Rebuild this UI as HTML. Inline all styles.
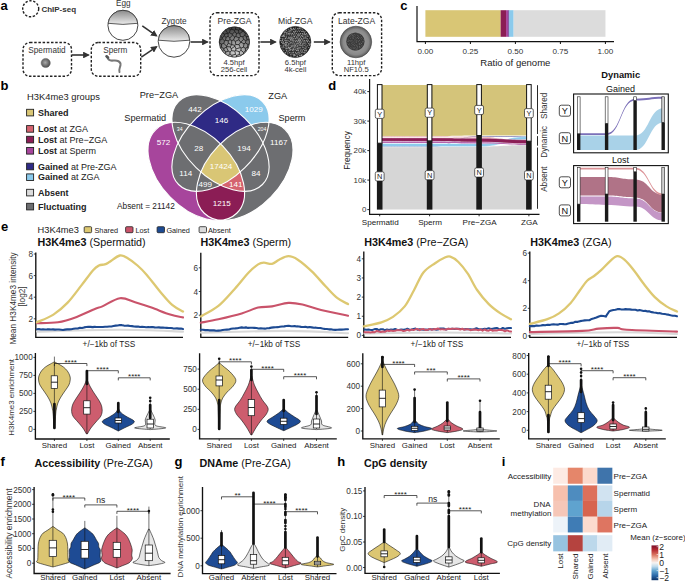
<!DOCTYPE html>
<html><head><meta charset="utf-8"><style>
html,body{margin:0;padding:0;background:#fff;}
svg{display:block;font-family:"Liberation Sans",sans-serif;}
</style></head><body>
<svg width="685" height="582" viewBox="0 0 685 582">
<defs>
<marker id="arr" viewBox="0 0 10 10" refX="8" refY="5" markerWidth="4.2" markerHeight="4.2" orient="auto"><path d="M0,0 L10,5 L0,10 Z" fill="#333"/></marker>
<radialGradient id="gSph" cx="0.45" cy="0.45" r="0.6"><stop offset="0" stop-color="#aaa"/><stop offset="1" stop-color="#444"/></radialGradient>
<linearGradient id="gEgg" x1="0" y1="0" x2="0" y2="1"><stop offset="0" stop-color="#8a8a8a"/><stop offset="1" stop-color="#ececec"/></linearGradient>
<radialGradient id="gPre" cx="0.55" cy="0.85" r="0.95"><stop offset="0" stop-color="#d4d4d4"/><stop offset="0.45" stop-color="#8a8a8a"/><stop offset="1" stop-color="#262626"/></radialGradient>
<radialGradient id="gMid" cx="0.5" cy="0.55" r="0.6"><stop offset="0" stop-color="#444"/><stop offset="1" stop-color="#1a1a1a"/></radialGradient>
<radialGradient id="gLate" cx="0.5" cy="0.5" r="0.5"><stop offset="0.55" stop-color="#959595"/><stop offset="0.8" stop-color="#8a8a8a"/><stop offset="1" stop-color="#5a5a5a"/></radialGradient>
<pattern id="patCells" width="5" height="4.5" patternUnits="userSpaceOnUse"><path d="M0,0.5 L2.5,0 L5,0.6 M2.5,0 L2.2,2.3 L0,2.6 M2.2,2.3 L4.8,2.5 M1.2,2.5 L1.5,4.5 M3.8,2.4 L3.6,4.5" stroke="#151515" stroke-width="0.5" fill="none"/></pattern>
<pattern id="patDots" width="2.4" height="2.4" patternUnits="userSpaceOnUse"><circle cx="1.2" cy="1.2" r="0.55" fill="#cfcfcf"/></pattern>
<pattern id="patDots2" width="2.2" height="2.2" patternUnits="userSpaceOnUse"><circle cx="1.1" cy="1.1" r="0.45" fill="#999"/></pattern>
<clipPath id="clipA"><ellipse cx="196.30" cy="171.40" rx="58.2" ry="36.6" transform="rotate(46 196.30 171.40)" fill="#fff" /></clipPath>
<clipPath id="clipB"><ellipse cx="220.50" cy="143.00" rx="59.0" ry="34.7" transform="rotate(44.7 220.50 143.00)" fill="#fff" /></clipPath>
<clipPath id="clipCc"><ellipse cx="220.50" cy="143.00" rx="59.0" ry="34.7" transform="rotate(-44.7 220.50 143.00)" fill="#fff" /></clipPath>
<clipPath id="clipD"><ellipse cx="244.70" cy="171.40" rx="58.2" ry="36.6" transform="rotate(-46 244.70 171.40)" fill="#fff" /></clipPath>
<mask id="mA" maskUnits="userSpaceOnUse" x="0" y="0" width="685" height="582"><rect x="0" y="0" width="685" height="582" fill="#fff"/><ellipse cx="220.50" cy="143.00" rx="59.0" ry="34.7" transform="rotate(44.7 220.50 143.00)" fill="#000" /><ellipse cx="220.50" cy="143.00" rx="59.0" ry="34.7" transform="rotate(-44.7 220.50 143.00)" fill="#000" /><ellipse cx="244.70" cy="171.40" rx="58.2" ry="36.6" transform="rotate(-46 244.70 171.40)" fill="#000" /></mask>
<mask id="mBC" maskUnits="userSpaceOnUse" x="0" y="0" width="685" height="582"><rect x="0" y="0" width="685" height="582" fill="#fff"/><ellipse cx="196.30" cy="171.40" rx="58.2" ry="36.6" transform="rotate(46 196.30 171.40)" fill="#000" /><ellipse cx="244.70" cy="171.40" rx="58.2" ry="36.6" transform="rotate(-46 244.70 171.40)" fill="#000" /></mask>
<mask id="mC" maskUnits="userSpaceOnUse" x="0" y="0" width="685" height="582"><rect x="0" y="0" width="685" height="582" fill="#fff"/><ellipse cx="196.30" cy="171.40" rx="58.2" ry="36.6" transform="rotate(46 196.30 171.40)" fill="#000" /><ellipse cx="220.50" cy="143.00" rx="59.0" ry="34.7" transform="rotate(44.7 220.50 143.00)" fill="#000" /><ellipse cx="244.70" cy="171.40" rx="58.2" ry="36.6" transform="rotate(-46 244.70 171.40)" fill="#000" /></mask>
<mask id="mAD" maskUnits="userSpaceOnUse" x="0" y="0" width="685" height="582"><rect x="0" y="0" width="685" height="582" fill="#fff"/><ellipse cx="220.50" cy="143.00" rx="59.0" ry="34.7" transform="rotate(44.7 220.50 143.00)" fill="#000" /><ellipse cx="220.50" cy="143.00" rx="59.0" ry="34.7" transform="rotate(-44.7 220.50 143.00)" fill="#000" /></mask>
<mask id="mABCD" maskUnits="userSpaceOnUse" x="0" y="0" width="685" height="582"><rect x="0" y="0" width="685" height="582" fill="#fff"/></mask>
<mask id="mABD" maskUnits="userSpaceOnUse" x="0" y="0" width="685" height="582"><rect x="0" y="0" width="685" height="582" fill="#fff"/><ellipse cx="220.50" cy="143.00" rx="59.0" ry="34.7" transform="rotate(-44.7 220.50 143.00)" fill="#000" /></mask><linearGradient id="gBar" x1="0" y1="0" x2="0" y2="1">
<stop offset="0" stop-color="#7A0F28"/><stop offset="0.12" stop-color="#B2262F"/><stop offset="0.27" stop-color="#DB7661"/>
<stop offset="0.40" stop-color="#F5C9B6"/><stop offset="0.50" stop-color="#F6F3F1"/><stop offset="0.60" stop-color="#C3DDEC"/>
<stop offset="0.73" stop-color="#5EA2CE"/><stop offset="0.87" stop-color="#2A68A8"/><stop offset="1" stop-color="#0C3367"/></linearGradient></defs>
<rect width="685" height="582" fill="#fff"/>
<text x="0.6" y="10.1" font-size="13" font-weight="bold">a</text>
<circle cx="30.7" cy="8.8" r="8" fill="none" stroke="#222" stroke-width="1.4" stroke-dasharray="2.4,1.6"/>
<text x="41.4" y="11.6" font-size="8" font-weight="bold" fill="#333">ChIP-seq</text>
<rect x="23" y="42.5" width="48.5" height="33.8" rx="7" ry="7" fill="none" stroke="#222" stroke-width="1.4" stroke-dasharray="2.5,1.7"/>
<rect x="91.3" y="42.5" width="49.39999999999999" height="33.8" rx="7" ry="7" fill="none" stroke="#222" stroke-width="1.4" stroke-dasharray="2.5,1.7"/>
<rect x="210" y="12.8" width="49" height="62.8" rx="7" ry="7" fill="none" stroke="#222" stroke-width="1.4" stroke-dasharray="2.5,1.7"/>
<rect x="332.3" y="12.8" width="49.30000000000001" height="62.8" rx="7" ry="7" fill="none" stroke="#222" stroke-width="1.4" stroke-dasharray="2.5,1.7"/>
<text x="47" y="53" font-size="8.2" text-anchor="middle" fill="#333">Spermatid</text>
<text x="115.3" y="53" font-size="8.2" text-anchor="middle" fill="#333">Sperm</text>
<text x="123.3" y="6.3" font-size="8.2" text-anchor="middle" fill="#333">Egg</text>
<text x="174" y="24.2" font-size="8.2" text-anchor="middle" fill="#333">Zygote</text>
<text x="234.5" y="24.3" font-size="8.6" text-anchor="middle" fill="#333">Pre-ZGA</text>
<text x="295.2" y="24.3" font-size="8.6" text-anchor="middle" fill="#333">Mid-ZGA</text>
<text x="356.6" y="24.3" font-size="8.6" text-anchor="middle" fill="#333">Late-ZGA</text>
<text x="234" y="64.8" font-size="7.6" text-anchor="middle" fill="#333">4.5hpf</text>
<text x="234" y="71.6" font-size="7.6" text-anchor="middle" fill="#333">256-cell</text>
<text x="295.4" y="64.8" font-size="7.6" text-anchor="middle" fill="#333">6.5hpf</text>
<text x="295.4" y="71.6" font-size="7.6" text-anchor="middle" fill="#333">4k-cell</text>
<text x="356.2" y="64.8" font-size="7.6" text-anchor="middle" fill="#333">11hpf</text>
<text x="356.2" y="71.6" font-size="7.6" text-anchor="middle" fill="#333">NF10.5</text>
<circle cx="45.7" cy="63" r="4.6" fill="url(#gSph)" stroke="#666" stroke-width="0.5"/>
<path d="M107,56.5 C108,60 110.5,61 113.5,60.5 C117,60 121,61.5 120.5,65 C120,68 118.5,70 119.5,72" fill="none" stroke="#777" stroke-width="2" stroke-linecap="round"/>
<path d="M106.5,56.3 L108,57.5" stroke="#555" stroke-width="2.6" stroke-linecap="round"/>
<circle cx="122.9" cy="25.3" r="15" fill="#fff" stroke="#333" stroke-width="0.9"/><path d="M108.03,23.30 A15,15 0 0 1 137.77,23.30 Q122.9,25.50 108.03,23.30 Z" fill="url(#gEgg)" stroke="#333" stroke-width="0.8"/>
<circle cx="174" cy="41.4" r="15.8" fill="#fff" stroke="#333" stroke-width="0.9"/><path d="M158.25,40.20 A15.8,15.8 0 0 1 189.75,40.20 Q174,42.40 158.25,40.20 Z" fill="url(#gEgg)" stroke="#333" stroke-width="0.8"/>
<line x1="72" y1="55" x2="88.5" y2="55" stroke="#333" stroke-width="1.6" marker-end="url(#arr)"/>
<line x1="142.3" y1="25.8" x2="156.5" y2="35.8" stroke="#333" stroke-width="1.6" marker-end="url(#arr)"/>
<line x1="141.3" y1="57.2" x2="156.5" y2="46.8" stroke="#333" stroke-width="1.6" marker-end="url(#arr)"/>
<line x1="190.6" y1="42" x2="207.5" y2="42" stroke="#333" stroke-width="1.6" marker-end="url(#arr)"/>
<line x1="260.4" y1="42" x2="275.5" y2="42" stroke="#333" stroke-width="1.6" marker-end="url(#arr)"/>
<line x1="313.8" y1="42" x2="329.5" y2="42" stroke="#333" stroke-width="1.6" marker-end="url(#arr)"/>
<clipPath id="cpPre"><circle cx="234.4" cy="42" r="15.2"/></clipPath>
<circle cx="234.4" cy="42" r="15.2" fill="url(#gPre)"/>
<g clip-path="url(#cpPre)"><path d="M223.91,48.55L226.30,47.04M223.91,48.55L223.77,49.56M223.77,49.56L225.81,51.95M225.81,51.95L228.29,51.20M228.29,51.20L226.30,47.04M235.43,54.28L231.81,55.34M235.43,54.28L234.91,51.05M234.91,51.05L231.47,50.71M231.47,50.71L230.03,52.00M230.03,52.00L229.95,53.98M229.95,53.98L231.81,55.34M225.81,51.95L224.67,54.62M224.67,54.62L227.70,55.95M227.70,55.95L229.95,53.98M228.29,51.20L230.03,52.00M240.66,42.10L238.88,39.72M240.66,42.10L239.02,44.64M238.88,39.72L235.33,41.32M239.02,44.64L235.77,44.47M235.33,41.32L235.77,44.47M240.79,42.10L243.60,39.38M240.79,42.10L244.00,43.80M244.00,43.80L245.54,42.99M245.54,42.99L245.94,40.60M245.94,40.60L243.60,39.38M243.46,47.18L244.00,43.80M243.46,47.18L241.06,48.06M240.35,47.58L241.06,48.06M240.35,47.58L239.02,44.64M240.66,42.10L240.79,42.10M233.54,40.08L234.73,36.88M233.54,40.08L235.33,41.32M234.73,36.88L235.92,36.51M238.88,39.72L239.02,37.80M239.02,37.80L235.92,36.51M243.60,39.38L242.82,36.70M239.02,37.80L240.47,36.48M242.82,36.70L240.47,36.48M221.44,47.26L221.52,44.09M221.44,47.26L220.09,47.85M220.09,47.85L218.12,47.04M221.52,44.09L219.45,43.04M219.45,43.04L217.53,43.88M218.12,47.04L217.53,43.88M224.67,54.62L223.97,54.76M227.70,55.95L227.81,58.02M223.97,54.76L223.19,57.64M243.46,47.18L245.38,48.15M245.54,42.99L248.01,44.42M245.38,48.15L247.35,47.47M248.01,44.42L247.35,47.47M223.91,48.55L221.44,47.26M223.81,43.25L221.52,44.09M223.81,43.25L226.49,46.17M226.30,47.04L226.56,46.57M226.49,46.17L226.56,46.57M220.42,33.94L217.72,32.38M220.42,33.94L220.18,35.37M220.18,35.37L217.83,36.87M222.39,32.72L222.56,30.68M222.39,32.72L220.42,33.94M222.56,30.68L219.65,28.98M222.56,30.68L224.25,29.35M223.21,26.54L224.25,29.35M222.39,32.72L224.38,34.17M224.38,34.17L224.23,35.92M220.18,35.37L222.26,37.93M224.23,35.92L222.26,37.93M217.83,36.87L218.65,39.28M218.65,39.28L219.84,40.05M219.84,40.05L222.24,38.91M222.26,37.93L222.24,38.91M223.81,43.25L224.56,40.68M219.45,43.04L219.84,40.05M222.24,38.91L224.56,40.68M247.02,39.79L249.74,39.83M247.02,39.79L245.94,40.60M249.74,39.83L249.98,40.09M248.01,44.42L249.63,43.84M249.98,40.09L249.63,43.84M252.29,47.05L249.04,48.50M249.04,48.50L247.35,47.47M251.54,44.85L249.63,43.84M246.92,32.87L249.27,33.41M246.92,32.87L245.32,33.42M245.32,33.42L244.84,35.34M249.32,36.36L246.25,36.59M249.32,36.36L249.27,33.41M246.25,36.59L244.84,35.34M247.82,29.37L246.92,32.87M250.01,33.06L249.27,33.41M247.02,39.79L246.25,36.59M250.12,37.30L249.74,39.83M250.12,37.30L249.32,36.36M253.22,35.96L250.12,37.30M242.82,36.70L244.84,35.34M218.12,47.04L215.28,49.25M217.53,43.88L216.43,43.60M218.65,39.28L214.87,40.72M221.29,52.47L221.46,53.36M221.29,52.47L219.51,50.98M223.77,49.56L221.29,52.47M223.97,54.76L221.46,53.36M220.09,47.85L219.51,50.98M235.74,61.93L234.57,58.66M234.57,58.66L232.44,58.38M232.44,58.38L231.34,59.24M238.95,59.11L236.36,56.88M236.36,56.88L234.57,58.66M235.43,54.28L236.56,55.44M231.81,55.34L232.44,58.38M236.36,56.88L236.56,55.44M248.09,55.09L247.40,51.78M247.40,51.78L249.20,50.37M249.20,50.37L251.34,51.75M245.50,50.90L245.38,48.15M245.50,50.90L247.40,51.78M249.04,48.50L249.20,50.37M234.91,51.05L235.50,50.52M235.50,50.52L239.43,51.74M236.56,55.44L239.34,54.50M239.34,54.50L239.43,51.74M235.50,50.52L235.98,48.93M235.98,48.93L240.35,47.58M241.06,48.06L240.97,50.25M239.43,51.74L240.97,50.25M245.50,50.90L243.63,52.43M240.97,50.25L243.63,52.43M239.34,54.50L240.91,55.38M241.10,58.29L240.91,55.38M243.63,52.43L243.58,54.17M240.91,55.38L243.58,54.17M231.23,48.76L230.15,46.93M231.23,48.76L234.96,46.25M230.15,46.93L231.70,44.61M234.95,45.33L234.96,46.25M234.95,45.33L231.71,44.61M231.71,44.61L231.70,44.61M231.47,50.71L231.23,48.76M226.56,46.57L230.15,46.93M235.98,48.93L234.96,46.25M226.49,46.17L228.24,43.28M228.24,43.28L231.70,44.61M235.77,44.47L234.95,45.33M233.54,40.08L231.68,40.42M231.68,40.42L231.71,44.61M225.34,29.37L227.90,27.48M225.34,29.37L227.62,33.28M227.90,27.48L230.30,29.58M230.30,29.58L229.31,32.70M229.31,32.70L227.93,33.37M227.62,33.28L227.93,33.37M224.25,29.35L225.34,29.37M227.93,25.80L227.90,27.48M224.38,34.17L227.62,33.28M232.38,25.37L231.48,29.27M232.38,25.37L230.59,24.74M231.48,29.27L230.30,29.58M232.38,25.37L234.49,24.82M234.68,22.99L234.49,24.82M235.92,36.51L236.53,33.29M239.78,33.59L240.47,36.48M239.78,33.59L238.86,33.06M238.86,33.06L236.53,33.29M234.73,36.88L232.52,35.14M232.31,34.15L232.52,35.14M232.31,34.15L234.70,31.70M236.53,33.29L234.70,31.70M231.48,29.27L234.61,30.18M232.31,34.15L229.31,32.70M234.70,31.70L234.61,30.18M239.78,33.59L243.05,30.97M245.32,33.42L243.09,30.97M243.05,30.97L243.09,30.97M243.09,30.97L244.79,27.28M226.05,37.22L225.53,40.36M226.05,37.22L228.20,36.24M228.20,36.24L229.77,37.99M228.22,40.77L229.98,39.71M228.22,40.77L225.53,40.36M229.98,39.71L229.77,37.99M224.23,35.92L226.05,37.22M224.56,40.68L225.53,40.36M227.93,33.37L228.20,36.24M232.52,35.14L229.77,37.99M231.68,40.42L229.98,39.71M228.24,43.28L228.22,40.77M249.98,40.09L254.32,40.51M243.58,54.17L245.29,55.45M238.75,25.82L235.92,26.32M238.75,25.82L239.76,26.38M239.76,26.38L239.83,29.18M235.92,26.32L235.36,29.37M235.36,29.37L238.57,30.06M238.57,30.06L239.83,29.18M234.49,24.82L235.92,26.32M234.61,30.18L235.36,29.37M238.86,33.06L238.57,30.06M243.05,30.97L239.83,29.18M239.76,26.38L242.98,25.62M238.75,25.82L238.98,22.18" stroke="#151515" stroke-width="0.75" fill="none"/></g>
<circle cx="234.4" cy="42" r="15.2" fill="none" stroke="#222" stroke-width="0.7"/>
<circle cx="295.3" cy="42" r="15.6" fill="url(#gMid)" stroke="#222" stroke-width="0.6"/>
<g fill="#9c9c9c"><circle cx="280.40" cy="40.51" r="0.63"/><circle cx="282.19" cy="36.38" r="0.74"/><circle cx="280.83" cy="38.54" r="0.64"/><circle cx="282.23" cy="40.49" r="0.81"/><circle cx="281.76" cy="42.28" r="0.80"/><circle cx="282.74" cy="43.62" r="0.63"/><circle cx="280.83" cy="45.43" r="0.52"/><circle cx="282.01" cy="47.13" r="0.65"/><circle cx="284.27" cy="32.92" r="0.67"/><circle cx="283.34" cy="35.33" r="0.86"/><circle cx="284.04" cy="36.31" r="0.86"/><circle cx="282.80" cy="38.98" r="0.83"/><circle cx="284.70" cy="40.16" r="0.58"/><circle cx="283.40" cy="41.93" r="0.76"/><circle cx="283.99" cy="43.71" r="0.83"/><circle cx="283.39" cy="45.91" r="0.77"/><circle cx="283.93" cy="47.37" r="0.57"/><circle cx="282.87" cy="49.06" r="0.51"/><circle cx="283.85" cy="50.59" r="0.57"/><circle cx="286.28" cy="30.15" r="0.73"/><circle cx="285.04" cy="32.02" r="0.84"/><circle cx="286.49" cy="32.92" r="0.73"/><circle cx="284.80" cy="34.83" r="0.66"/><circle cx="286.26" cy="37.07" r="0.71"/><circle cx="285.45" cy="38.47" r="0.77"/><circle cx="285.99" cy="40.66" r="0.81"/><circle cx="285.71" cy="42.45" r="0.79"/><circle cx="286.09" cy="44.15" r="0.80"/><circle cx="285.27" cy="45.08" r="0.85"/><circle cx="286.01" cy="46.89" r="0.70"/><circle cx="285.66" cy="48.73" r="0.58"/><circle cx="286.58" cy="50.77" r="0.71"/><circle cx="285.40" cy="52.75" r="0.78"/><circle cx="288.35" cy="29.79" r="0.51"/><circle cx="287.24" cy="31.92" r="0.53"/><circle cx="288.33" cy="33.75" r="0.85"/><circle cx="286.82" cy="34.85" r="0.57"/><circle cx="288.78" cy="37.08" r="0.60"/><circle cx="287.19" cy="38.70" r="0.51"/><circle cx="287.97" cy="40.55" r="0.61"/><circle cx="287.04" cy="42.41" r="0.76"/><circle cx="288.66" cy="44.02" r="0.69"/><circle cx="286.98" cy="45.68" r="0.70"/><circle cx="288.53" cy="47.39" r="0.79"/><circle cx="286.86" cy="48.62" r="0.82"/><circle cx="288.49" cy="51.07" r="0.52"/><circle cx="287.32" cy="51.95" r="0.56"/><circle cx="287.85" cy="53.87" r="0.60"/><circle cx="290.09" cy="30.22" r="0.79"/><circle cx="289.07" cy="31.66" r="0.74"/><circle cx="289.94" cy="33.45" r="0.73"/><circle cx="289.67" cy="34.84" r="0.55"/><circle cx="290.34" cy="37.14" r="0.55"/><circle cx="289.01" cy="38.12" r="0.86"/><circle cx="290.56" cy="39.85" r="0.81"/><circle cx="289.24" cy="41.52" r="0.53"/><circle cx="290.05" cy="43.28" r="0.56"/><circle cx="288.86" cy="45.12" r="0.54"/><circle cx="290.22" cy="47.55" r="0.79"/><circle cx="289.33" cy="48.52" r="0.85"/><circle cx="289.87" cy="50.21" r="0.77"/><circle cx="289.43" cy="52.70" r="0.60"/><circle cx="290.69" cy="54.55" r="0.52"/><circle cx="290.88" cy="28.35" r="0.86"/><circle cx="291.88" cy="29.68" r="0.85"/><circle cx="290.92" cy="31.87" r="0.54"/><circle cx="292.26" cy="33.58" r="0.79"/><circle cx="291.60" cy="34.86" r="0.70"/><circle cx="291.93" cy="37.27" r="0.77"/><circle cx="291.19" cy="38.51" r="0.71"/><circle cx="292.16" cy="40.09" r="0.83"/><circle cx="290.96" cy="42.45" r="0.70"/><circle cx="292.26" cy="43.71" r="0.51"/><circle cx="291.13" cy="45.44" r="0.52"/><circle cx="291.81" cy="46.73" r="0.73"/><circle cx="290.81" cy="49.41" r="0.73"/><circle cx="292.52" cy="50.24" r="0.69"/><circle cx="291.01" cy="52.86" r="0.63"/><circle cx="292.00" cy="54.11" r="0.62"/><circle cx="290.94" cy="56.20" r="0.58"/><circle cx="293.54" cy="28.44" r="0.65"/><circle cx="294.14" cy="29.41" r="0.75"/><circle cx="293.60" cy="31.69" r="0.60"/><circle cx="294.50" cy="33.02" r="0.79"/><circle cx="293.74" cy="34.87" r="0.72"/><circle cx="294.25" cy="36.61" r="0.82"/><circle cx="293.12" cy="38.81" r="0.78"/><circle cx="293.91" cy="40.59" r="0.64"/><circle cx="293.17" cy="41.95" r="0.65"/><circle cx="294.22" cy="43.99" r="0.62"/><circle cx="292.96" cy="45.74" r="0.66"/><circle cx="294.34" cy="46.89" r="0.75"/><circle cx="293.41" cy="49.10" r="0.84"/><circle cx="293.87" cy="50.72" r="0.52"/><circle cx="293.17" cy="52.58" r="0.80"/><circle cx="294.08" cy="54.58" r="0.84"/><circle cx="293.72" cy="55.86" r="0.73"/><circle cx="295.41" cy="28.01" r="0.57"/><circle cx="295.95" cy="30.09" r="0.66"/><circle cx="295.24" cy="31.42" r="0.72"/><circle cx="296.43" cy="33.59" r="0.61"/><circle cx="295.40" cy="35.05" r="0.54"/><circle cx="296.66" cy="36.89" r="0.68"/><circle cx="295.32" cy="38.54" r="0.65"/><circle cx="296.31" cy="40.58" r="0.64"/><circle cx="295.56" cy="41.51" r="0.62"/><circle cx="296.54" cy="43.89" r="0.54"/><circle cx="295.16" cy="45.42" r="0.80"/><circle cx="295.91" cy="46.87" r="0.61"/><circle cx="295.21" cy="49.17" r="0.65"/><circle cx="296.52" cy="50.43" r="0.63"/><circle cx="295.57" cy="52.37" r="0.69"/><circle cx="296.22" cy="53.77" r="0.69"/><circle cx="294.85" cy="55.58" r="0.77"/><circle cx="297.72" cy="28.56" r="0.63"/><circle cx="298.35" cy="29.97" r="0.59"/><circle cx="297.21" cy="31.66" r="0.58"/><circle cx="298.56" cy="33.80" r="0.51"/><circle cx="297.80" cy="35.03" r="0.79"/><circle cx="298.30" cy="36.75" r="0.53"/><circle cx="297.07" cy="38.06" r="0.70"/><circle cx="298.46" cy="40.16" r="0.83"/><circle cx="297.75" cy="41.74" r="0.62"/><circle cx="298.00" cy="43.46" r="0.75"/><circle cx="297.57" cy="45.95" r="0.69"/><circle cx="298.21" cy="47.67" r="0.52"/><circle cx="297.32" cy="48.76" r="0.77"/><circle cx="298.13" cy="50.33" r="0.85"/><circle cx="297.76" cy="52.87" r="0.56"/><circle cx="298.12" cy="54.06" r="0.65"/><circle cx="297.33" cy="56.24" r="0.86"/><circle cx="299.26" cy="28.24" r="0.79"/><circle cx="300.17" cy="30.14" r="0.52"/><circle cx="299.33" cy="31.58" r="0.54"/><circle cx="300.37" cy="33.78" r="0.75"/><circle cx="299.12" cy="35.15" r="0.78"/><circle cx="300.55" cy="37.03" r="0.79"/><circle cx="299.20" cy="38.77" r="0.68"/><circle cx="300.15" cy="40.20" r="0.85"/><circle cx="299.53" cy="41.99" r="0.86"/><circle cx="300.45" cy="43.81" r="0.74"/><circle cx="299.23" cy="45.02" r="0.66"/><circle cx="300.05" cy="47.66" r="0.77"/><circle cx="298.92" cy="48.64" r="0.52"/><circle cx="300.59" cy="50.94" r="0.62"/><circle cx="298.97" cy="52.20" r="0.72"/><circle cx="299.93" cy="53.71" r="0.61"/><circle cx="299.80" cy="55.56" r="0.75"/><circle cx="300.90" cy="28.15" r="0.59"/><circle cx="302.16" cy="29.44" r="0.54"/><circle cx="301.78" cy="31.41" r="0.67"/><circle cx="302.48" cy="33.70" r="0.80"/><circle cx="301.42" cy="35.49" r="0.60"/><circle cx="302.62" cy="36.36" r="0.77"/><circle cx="301.56" cy="38.72" r="0.74"/><circle cx="302.78" cy="39.95" r="0.68"/><circle cx="301.10" cy="41.97" r="0.78"/><circle cx="302.60" cy="43.69" r="0.54"/><circle cx="300.99" cy="45.61" r="0.74"/><circle cx="302.59" cy="47.10" r="0.72"/><circle cx="301.09" cy="49.21" r="0.55"/><circle cx="302.21" cy="51.09" r="0.75"/><circle cx="301.31" cy="52.43" r="0.54"/><circle cx="301.85" cy="54.56" r="0.58"/><circle cx="301.39" cy="55.64" r="0.85"/><circle cx="303.09" cy="31.30" r="0.82"/><circle cx="304.34" cy="33.08" r="0.82"/><circle cx="303.18" cy="34.71" r="0.58"/><circle cx="304.08" cy="37.02" r="0.60"/><circle cx="303.72" cy="38.14" r="0.65"/><circle cx="304.51" cy="40.74" r="0.80"/><circle cx="303.16" cy="41.82" r="0.51"/><circle cx="303.98" cy="43.35" r="0.74"/><circle cx="302.85" cy="45.03" r="0.78"/><circle cx="303.85" cy="47.31" r="0.52"/><circle cx="303.24" cy="49.45" r="0.61"/><circle cx="304.79" cy="50.80" r="0.79"/><circle cx="303.08" cy="52.50" r="0.63"/><circle cx="304.98" cy="31.67" r="0.58"/><circle cx="306.49" cy="33.62" r="0.66"/><circle cx="305.07" cy="34.55" r="0.85"/><circle cx="305.83" cy="36.95" r="0.81"/><circle cx="305.15" cy="38.20" r="0.63"/><circle cx="306.48" cy="40.66" r="0.61"/><circle cx="305.27" cy="41.98" r="0.57"/><circle cx="305.89" cy="43.94" r="0.62"/><circle cx="304.85" cy="45.32" r="0.57"/><circle cx="306.05" cy="46.92" r="0.73"/><circle cx="305.14" cy="48.79" r="0.77"/><circle cx="306.23" cy="50.84" r="0.78"/><circle cx="304.84" cy="52.74" r="0.77"/><circle cx="306.99" cy="34.91" r="0.68"/><circle cx="307.87" cy="36.29" r="0.71"/><circle cx="307.09" cy="38.79" r="0.77"/><circle cx="308.14" cy="40.29" r="0.67"/><circle cx="307.57" cy="41.82" r="0.80"/><circle cx="308.49" cy="43.71" r="0.62"/><circle cx="307.38" cy="45.84" r="0.54"/><circle cx="308.71" cy="47.48" r="0.59"/><circle cx="306.81" cy="49.00" r="0.53"/><circle cx="309.72" cy="38.11" r="0.61"/><circle cx="309.61" cy="41.83" r="0.67"/><circle cx="310.06" cy="44.06" r="0.84"/><circle cx="309.45" cy="45.14" r="0.73"/></g>
<circle cx="355.9" cy="42" r="15.8" fill="url(#gLate)" stroke="#444" stroke-width="0.6"/>
<circle cx="355.4" cy="41.6" r="9.2" fill="#3a3a3a"/>
<g fill="#8a8a8a"><circle cx="348.16" cy="40.50" r="0.33"/><circle cx="347.30" cy="41.35" r="0.38"/><circle cx="347.75" cy="43.43" r="0.29"/><circle cx="349.68" cy="36.79" r="0.43"/><circle cx="348.19" cy="39.03" r="0.37"/><circle cx="349.37" cy="40.31" r="0.38"/><circle cx="348.80" cy="41.25" r="0.39"/><circle cx="349.50" cy="43.45" r="0.29"/><circle cx="348.56" cy="44.67" r="0.39"/><circle cx="349.09" cy="46.12" r="0.32"/><circle cx="351.20" cy="34.35" r="0.42"/><circle cx="350.37" cy="35.62" r="0.32"/><circle cx="350.97" cy="36.99" r="0.37"/><circle cx="350.72" cy="38.52" r="0.37"/><circle cx="351.04" cy="40.19" r="0.47"/><circle cx="350.63" cy="41.50" r="0.33"/><circle cx="351.48" cy="43.07" r="0.42"/><circle cx="349.94" cy="44.87" r="0.34"/><circle cx="351.15" cy="45.78" r="0.36"/><circle cx="350.58" cy="47.79" r="0.37"/><circle cx="351.38" cy="48.96" r="0.35"/><circle cx="352.59" cy="33.90" r="0.34"/><circle cx="352.23" cy="35.67" r="0.46"/><circle cx="352.98" cy="37.27" r="0.43"/><circle cx="352.21" cy="38.51" r="0.33"/><circle cx="352.80" cy="40.11" r="0.31"/><circle cx="351.95" cy="41.72" r="0.31"/><circle cx="352.54" cy="42.80" r="0.34"/><circle cx="352.39" cy="44.15" r="0.32"/><circle cx="352.57" cy="46.02" r="0.28"/><circle cx="351.96" cy="47.23" r="0.33"/><circle cx="353.10" cy="48.73" r="0.40"/><circle cx="354.14" cy="34.40" r="0.42"/><circle cx="353.63" cy="35.98" r="0.43"/><circle cx="354.41" cy="36.80" r="0.31"/><circle cx="353.43" cy="38.48" r="0.37"/><circle cx="354.91" cy="39.93" r="0.46"/><circle cx="353.85" cy="41.90" r="0.36"/><circle cx="354.13" cy="43.32" r="0.33"/><circle cx="353.40" cy="44.81" r="0.42"/><circle cx="354.31" cy="45.84" r="0.47"/><circle cx="353.50" cy="47.69" r="0.31"/><circle cx="354.82" cy="48.67" r="0.38"/><circle cx="356.07" cy="34.04" r="0.30"/><circle cx="355.16" cy="35.49" r="0.31"/><circle cx="355.88" cy="37.13" r="0.32"/><circle cx="355.60" cy="39.00" r="0.33"/><circle cx="356.31" cy="40.13" r="0.30"/><circle cx="355.08" cy="41.93" r="0.37"/><circle cx="356.51" cy="42.71" r="0.40"/><circle cx="355.71" cy="44.87" r="0.28"/><circle cx="356.27" cy="45.93" r="0.43"/><circle cx="355.04" cy="47.32" r="0.44"/><circle cx="356.22" cy="48.96" r="0.47"/><circle cx="355.25" cy="50.08" r="0.36"/><circle cx="358.00" cy="33.87" r="0.44"/><circle cx="357.46" cy="35.35" r="0.33"/><circle cx="357.67" cy="37.46" r="0.46"/><circle cx="356.71" cy="38.50" r="0.32"/><circle cx="357.92" cy="40.48" r="0.29"/><circle cx="356.82" cy="41.59" r="0.38"/><circle cx="358.16" cy="43.03" r="0.31"/><circle cx="356.98" cy="44.97" r="0.43"/><circle cx="357.62" cy="46.30" r="0.34"/><circle cx="357.34" cy="47.10" r="0.45"/><circle cx="357.66" cy="48.96" r="0.41"/><circle cx="358.49" cy="36.09" r="0.42"/><circle cx="359.33" cy="37.51" r="0.30"/><circle cx="358.45" cy="38.50" r="0.47"/><circle cx="359.25" cy="40.48" r="0.40"/><circle cx="358.43" cy="41.66" r="0.37"/><circle cx="359.70" cy="43.28" r="0.42"/><circle cx="359.22" cy="44.27" r="0.44"/><circle cx="359.57" cy="46.28" r="0.46"/><circle cx="359.22" cy="47.32" r="0.37"/><circle cx="360.42" cy="35.75" r="0.33"/><circle cx="361.22" cy="37.26" r="0.40"/><circle cx="360.21" cy="38.82" r="0.30"/><circle cx="361.75" cy="39.87" r="0.33"/><circle cx="360.25" cy="42.02" r="0.34"/><circle cx="361.44" cy="43.50" r="0.47"/><circle cx="360.11" cy="44.58" r="0.40"/><circle cx="361.52" cy="45.90" r="0.35"/><circle cx="360.08" cy="47.12" r="0.39"/><circle cx="362.32" cy="38.66" r="0.28"/><circle cx="363.38" cy="39.75" r="0.31"/><circle cx="362.36" cy="41.87" r="0.44"/><circle cx="363.01" cy="42.80" r="0.29"/><circle cx="362.50" cy="44.96" r="0.33"/><circle cx="363.69" cy="41.19" r="0.39"/></g>
<text x="0.6" y="89.9" font-size="13" font-weight="bold">b</text>
<text x="27.1" y="100.3" font-size="9.35" fill="#222">H3K4me3 groups</text>
<rect x="26.6" y="109.3" width="7" height="6.6" fill="#D9C675" stroke="#222" stroke-width="0.9"/>
<text x="38" y="115.8" font-size="9" fill="#222"><tspan font-weight="bold">Shared</tspan></text>
<rect x="26.6" y="125.6" width="7" height="6.6" fill="#D5636F" stroke="#222" stroke-width="0.9"/>
<text x="38" y="132.1" font-size="9" fill="#222"><tspan font-weight="bold">Lost</tspan> at ZGA</text>
<rect x="26.6" y="136.3" width="7" height="6.6" fill="#8B1D55" stroke="#222" stroke-width="0.9"/>
<text x="38" y="142.8" font-size="9" fill="#222"><tspan font-weight="bold">Lost</tspan> at Pre−ZGA</text>
<rect x="26.6" y="147.5" width="7" height="6.6" fill="#A7459C" stroke="#222" stroke-width="0.9"/>
<text x="38" y="154.0" font-size="9" fill="#222"><tspan font-weight="bold">Lost</tspan> at Sperm</text>
<rect x="26.6" y="163.2" width="7" height="6.6" fill="#2F2A85" stroke="#222" stroke-width="0.9"/>
<text x="38" y="169.7" font-size="9" fill="#222"><tspan font-weight="bold">Gained</tspan> at Pre-ZGA</text>
<rect x="26.6" y="173.9" width="7" height="6.6" fill="#8BCAEC" stroke="#222" stroke-width="0.9"/>
<text x="38" y="180.4" font-size="9" fill="#222"><tspan font-weight="bold">Gained</tspan> at ZGA</text>
<rect x="26.6" y="189.3" width="7" height="6.6" fill="#DCDCDC" stroke="#222" stroke-width="0.9"/>
<text x="38" y="195.8" font-size="9" fill="#222"><tspan font-weight="bold">Absent</tspan></text>
<rect x="26.6" y="203.3" width="7" height="6.6" fill="#6D6E71" stroke="#222" stroke-width="0.9"/>
<text x="38" y="209.8" font-size="9" fill="#222"><tspan font-weight="bold">Fluctuating</tspan></text>
<ellipse cx="196.30" cy="171.40" rx="58.2" ry="36.6" transform="rotate(46 196.30 171.40)" fill="#6D6E71" />
<ellipse cx="220.50" cy="143.00" rx="59.0" ry="34.7" transform="rotate(44.7 220.50 143.00)" fill="#6D6E71" />
<ellipse cx="220.50" cy="143.00" rx="59.0" ry="34.7" transform="rotate(-44.7 220.50 143.00)" fill="#6D6E71" />
<ellipse cx="244.70" cy="171.40" rx="58.2" ry="36.6" transform="rotate(-46 244.70 171.40)" fill="#6D6E71" />
<g clip-path="url(#clipA)"><rect x="100" y="60" width="250" height="200" fill="#A7459C" mask="url(#mA)"/></g>
<g clip-path="url(#clipCc)"><g clip-path="url(#clipB)"><rect x="100" y="60" width="250" height="200" fill="#2F2A85" mask="url(#mBC)"/></g></g>
<g clip-path="url(#clipCc)"><rect x="100" y="60" width="250" height="200" fill="#8BCAEC" mask="url(#mC)"/></g>
<g clip-path="url(#clipD)"><g clip-path="url(#clipA)"><rect x="100" y="60" width="250" height="200" fill="#8B1D55" mask="url(#mAD)"/></g></g>
<g clip-path="url(#clipD)"><g clip-path="url(#clipCc)"><g clip-path="url(#clipB)"><g clip-path="url(#clipA)"><rect x="100" y="60" width="250" height="200" fill="#D9C675" mask="url(#mABCD)"/></g></g></g></g>
<g clip-path="url(#clipD)"><g clip-path="url(#clipB)"><g clip-path="url(#clipA)"><rect x="100" y="60" width="250" height="200" fill="#D5636F" mask="url(#mABD)"/></g></g></g>
<ellipse cx="196.30" cy="171.40" rx="58.2" ry="36.6" transform="rotate(46 196.30 171.40)" fill="none" stroke="#fff" stroke-width="1.1"/>
<ellipse cx="220.50" cy="143.00" rx="59.0" ry="34.7" transform="rotate(44.7 220.50 143.00)" fill="none" stroke="#fff" stroke-width="1.1"/>
<ellipse cx="220.50" cy="143.00" rx="59.0" ry="34.7" transform="rotate(-44.7 220.50 143.00)" fill="none" stroke="#fff" stroke-width="1.1"/>
<ellipse cx="244.70" cy="171.40" rx="58.2" ry="36.6" transform="rotate(-46 244.70 171.40)" fill="none" stroke="#fff" stroke-width="1.1"/>
<text x="194.9" y="111.7" font-size="8.1" text-anchor="middle" fill="#fff">442</text>
<text x="253.7" y="111.7" font-size="8.1" text-anchor="middle" fill="#fff">1029</text>
<text x="221.5" y="122.8" font-size="8.1" text-anchor="middle" fill="#fff">146</text>
<text x="179.7" y="131.0" font-size="5.2" text-anchor="middle" fill="#fff">34</text>
<text x="262" y="131.0" font-size="5.2" text-anchor="middle" fill="#fff">204</text>
<text x="163.6" y="145.3" font-size="8.1" text-anchor="middle" fill="#fff">572</text>
<text x="278.7" y="145.3" font-size="8.1" text-anchor="middle" fill="#fff">1167</text>
<text x="198.8" y="150.6" font-size="8.1" text-anchor="middle" fill="#fff">28</text>
<text x="244" y="150.6" font-size="8.1" text-anchor="middle" fill="#fff">194</text>
<text x="221" y="169.4" font-size="8.1" text-anchor="middle" fill="#fff">17424</text>
<text x="185.8" y="176.4" font-size="8.1" text-anchor="middle" fill="#fff">114</text>
<text x="256" y="176.4" font-size="8.1" text-anchor="middle" fill="#fff">84</text>
<text x="205.2" y="186.6" font-size="8.1" text-anchor="middle" fill="#fff">499</text>
<text x="235.7" y="186.6" font-size="8.1" text-anchor="middle" fill="#fff">141</text>
<text x="221.8" y="206.1" font-size="8.1" text-anchor="middle" fill="#fff">1215</text>
<text x="139.7" y="98.1" font-size="9.2" fill="#222">Pre−ZGA</text>
<text x="124.3" y="121.2" font-size="9.2" fill="#222">Spermatid</text>
<text x="268.3" y="98.8" font-size="9.2" fill="#222">ZGA</text>
<text x="278.4" y="121.2" font-size="9.2" fill="#222">Sperm</text>
<text x="117" y="209.4" font-size="8.3" fill="#222">Absent = 21142</text>
<text x="400.3" y="10.2" font-size="13" font-weight="bold">c</text>
<rect x="425.40" y="10.2" width="75.29" height="26.6" fill="#D9C675"/>
<rect x="500.64" y="10.2" width="5.45" height="26.6" fill="#8B1D55"/>
<rect x="506.04" y="10.2" width="2.57" height="26.6" fill="#A7459C"/>
<rect x="508.56" y="10.2" width="0.77" height="26.6" fill="#2F2A85"/>
<rect x="509.28" y="10.2" width="4.37" height="26.6" fill="#8BCAEC"/>
<rect x="513.60" y="10.2" width="91.85" height="26.6" fill="#DCDCDC"/>
<path d="M417,6 L417,41.6 L614,41.6" fill="none" stroke="#111" stroke-width="1.2"/>
<line x1="425.40" y1="41.6" x2="425.40" y2="44" stroke="#111" stroke-width="1"/>
<text x="425.40" y="54.4" font-size="8.1" text-anchor="middle" fill="#333">0.00</text>
<line x1="470.40" y1="41.6" x2="470.40" y2="44" stroke="#111" stroke-width="1"/>
<text x="470.40" y="54.4" font-size="8.1" text-anchor="middle" fill="#333">0.25</text>
<line x1="515.40" y1="41.6" x2="515.40" y2="44" stroke="#111" stroke-width="1"/>
<text x="515.40" y="54.4" font-size="8.1" text-anchor="middle" fill="#333">0.50</text>
<line x1="560.40" y1="41.6" x2="560.40" y2="44" stroke="#111" stroke-width="1"/>
<text x="560.40" y="54.4" font-size="8.1" text-anchor="middle" fill="#333">0.75</text>
<line x1="605.40" y1="41.6" x2="605.40" y2="44" stroke="#111" stroke-width="1"/>
<text x="605.40" y="54.4" font-size="8.1" text-anchor="middle" fill="#333">1.00</text>
<text x="515.40" y="65.7" font-size="9.55" text-anchor="middle" fill="#222">Ratio of genome</text>
<text x="328.2" y="89.9" font-size="13" font-weight="bold">d</text>
<path d="M379.70,85.00 C404.65,85.00 404.65,85.00 429.60,85.00 C454.35,85.00 454.35,85.00 479.10,85.00 C504.00,85.00 504.00,85.00 528.90,85.00 L528.90,135.60 C504.00,135.60 504.00,135.60 479.10,135.60 C454.35,135.60 454.35,136.20 429.60,136.20 C404.65,136.20 404.65,136.20 379.70,136.20 Z" fill="#D4C47A"/>
<path d="M379.70,146.50 C404.65,146.50 404.65,146.50 429.60,146.50 C454.35,146.50 454.35,146.50 479.10,146.50 C504.00,146.50 504.00,145.00 528.90,145.00 L528.90,209.60 C504.00,209.60 504.00,209.60 479.10,209.60 C454.35,209.60 454.35,209.60 429.60,209.60 C404.65,209.60 404.65,209.60 379.70,209.60 Z" fill="#D6D6D6"/>
<path d="M379.70,146.30 C404.65,146.30 404.65,146.30 429.60,146.30 C454.35,146.30 454.35,136.00 479.10,136.00 C504.00,136.00 504.00,136.00 528.90,136.00 L528.90,136.70 C504.00,136.70 504.00,136.70 479.10,136.70 C454.35,136.70 454.35,147.00 429.60,147.00 C404.65,147.00 404.65,147.00 379.70,147.00 Z" fill="#2F2A85" stroke="#fff" stroke-width="0.35"/>
<path d="M379.70,143.50 C404.65,143.50 404.65,143.50 429.60,143.50 C454.35,143.50 454.35,143.40 479.10,143.40 C504.00,143.40 504.00,136.60 528.90,136.60 L528.90,139.60 C504.00,139.60 504.00,146.50 479.10,146.50 C454.35,146.50 454.35,146.50 429.60,146.50 C404.65,146.50 404.65,146.50 379.70,146.50 Z" fill="#8BCAEC" stroke="#fff" stroke-width="0.35"/>
<path d="M379.70,136.40 C404.65,136.40 404.65,136.40 429.60,136.40 C454.35,136.40 454.35,136.80 479.10,136.80 C504.00,136.80 504.00,143.80 528.90,143.80 L528.90,144.60 C504.00,144.60 504.00,137.60 479.10,137.60 C454.35,137.60 454.35,137.30 429.60,137.30 C404.65,137.30 404.65,137.30 379.70,137.30 Z" fill="#D5636F" stroke="#fff" stroke-width="0.35"/>
<path d="M379.70,137.90 C404.65,137.90 404.65,137.90 429.60,137.90 C454.35,137.90 454.35,138.20 479.10,138.20 C504.00,138.20 504.00,139.80 528.90,139.80 L528.90,143.80 C504.00,143.80 504.00,142.20 479.10,142.20 C454.35,142.20 454.35,141.40 429.60,141.40 C404.65,141.40 404.65,141.40 379.70,141.40 Z" fill="#8B1D55" stroke="#fff" stroke-width="0.35"/>
<path d="M379.70,141.40 C404.65,141.40 404.65,141.60 429.60,141.60 C454.35,141.60 454.35,142.20 479.10,142.20 C504.00,142.20 504.00,143.80 528.90,143.80 L528.90,145.00 C504.00,145.00 504.00,143.60 479.10,143.60 C454.35,143.60 454.35,143.10 429.60,143.10 C404.65,143.10 404.65,142.90 379.70,142.90 Z" fill="#A7459C" stroke="#fff" stroke-width="0.35"/>
<rect x="377.40" y="84.6" width="4.6" height="58.60" fill="#fff" stroke="#111" stroke-width="1"/>
<rect x="376.90" y="143.20" width="5.6" height="66.40" fill="#1a1a1a"/>
<rect x="427.30" y="84.6" width="4.6" height="56.30" fill="#fff" stroke="#111" stroke-width="1"/>
<rect x="426.80" y="140.90" width="5.6" height="68.70" fill="#1a1a1a"/>
<rect x="476.80" y="84.6" width="4.6" height="50.90" fill="#fff" stroke="#111" stroke-width="1"/>
<rect x="476.30" y="135.50" width="5.6" height="74.10" fill="#1a1a1a"/>
<rect x="526.60" y="84.6" width="4.6" height="56.60" fill="#fff" stroke="#111" stroke-width="1"/>
<rect x="526.10" y="141.20" width="5.6" height="68.40" fill="#1a1a1a"/>
<rect x="375.30" y="109.20" width="8.8" height="9.2" rx="1.6" fill="#fff" stroke="#222" stroke-width="0.7"/>
<text x="379.70" y="116.50" font-size="7.4" text-anchor="middle" fill="#222">Y</text>
<rect x="375.30" y="171.80" width="8.8" height="9.2" rx="1.6" fill="#fff" stroke="#222" stroke-width="0.7"/>
<text x="379.70" y="179.10" font-size="7.4" text-anchor="middle" fill="#222">N</text>
<rect x="425.20" y="108.10" width="8.8" height="9.2" rx="1.6" fill="#fff" stroke="#222" stroke-width="0.7"/>
<text x="429.60" y="115.40" font-size="7.4" text-anchor="middle" fill="#222">Y</text>
<rect x="425.20" y="170.60" width="8.8" height="9.2" rx="1.6" fill="#fff" stroke="#222" stroke-width="0.7"/>
<text x="429.60" y="177.90" font-size="7.4" text-anchor="middle" fill="#222">N</text>
<rect x="474.70" y="105.40" width="8.8" height="9.2" rx="1.6" fill="#fff" stroke="#222" stroke-width="0.7"/>
<text x="479.10" y="112.70" font-size="7.4" text-anchor="middle" fill="#222">Y</text>
<rect x="474.70" y="167.90" width="8.8" height="9.2" rx="1.6" fill="#fff" stroke="#222" stroke-width="0.7"/>
<text x="479.10" y="175.20" font-size="7.4" text-anchor="middle" fill="#222">N</text>
<rect x="524.50" y="108.60" width="8.8" height="9.2" rx="1.6" fill="#fff" stroke="#222" stroke-width="0.7"/>
<text x="528.90" y="115.90" font-size="7.4" text-anchor="middle" fill="#222">Y</text>
<rect x="524.50" y="170.80" width="8.8" height="9.2" rx="1.6" fill="#fff" stroke="#222" stroke-width="0.7"/>
<text x="528.90" y="178.10" font-size="7.4" text-anchor="middle" fill="#222">N</text>
<path d="M369.6,79 L369.6,214.3 L539.5,214.3" fill="none" stroke="#111" stroke-width="1.2"/>
<line x1="367.3" y1="209.60" x2="369.5" y2="209.60" stroke="#111" stroke-width="0.9"/>
<text x="366.3" y="212.40" font-size="7.9" text-anchor="end" fill="#333">0</text>
<line x1="367.3" y1="180.10" x2="369.5" y2="180.10" stroke="#111" stroke-width="0.9"/>
<text x="366.3" y="182.90" font-size="7.9" text-anchor="end" fill="#333">10k</text>
<line x1="367.3" y1="150.60" x2="369.5" y2="150.60" stroke="#111" stroke-width="0.9"/>
<text x="366.3" y="153.40" font-size="7.9" text-anchor="end" fill="#333">20k</text>
<line x1="367.3" y1="121.10" x2="369.5" y2="121.10" stroke="#111" stroke-width="0.9"/>
<text x="366.3" y="123.90" font-size="7.9" text-anchor="end" fill="#333">30k</text>
<line x1="367.3" y1="91.60" x2="369.5" y2="91.60" stroke="#111" stroke-width="0.9"/>
<text x="366.3" y="94.40" font-size="7.9" text-anchor="end" fill="#333">40k</text>
<line x1="379.7" y1="214.3" x2="379.7" y2="216.3" stroke="#111" stroke-width="0.9"/>
<text x="380.20" y="224.5" font-size="8.1" text-anchor="middle" fill="#222">Spermatid</text>
<line x1="429.6" y1="214.3" x2="429.6" y2="216.3" stroke="#111" stroke-width="0.9"/>
<text x="430.10" y="224.5" font-size="8.1" text-anchor="middle" fill="#222">Sperm</text>
<line x1="479.1" y1="214.3" x2="479.1" y2="216.3" stroke="#111" stroke-width="0.9"/>
<text x="479.60" y="224.5" font-size="8.1" text-anchor="middle" fill="#222">Pre−ZGA</text>
<line x1="528.9" y1="214.3" x2="528.9" y2="216.3" stroke="#111" stroke-width="0.9"/>
<text x="529.40" y="224.5" font-size="8.1" text-anchor="middle" fill="#222">ZGA</text>
<text transform="translate(350.3,150.5) rotate(-90)" font-size="8.2" text-anchor="middle" fill="#222">Frequency</text>
<line x1="537.5" y1="85.2" x2="537.5" y2="134" stroke="#111" stroke-width="0.9"/>
<line x1="537.5" y1="136.1" x2="537.5" y2="145.7" stroke="#111" stroke-width="0.9"/>
<line x1="537.5" y1="147.5" x2="537.5" y2="208.8" stroke="#111" stroke-width="0.9"/>
<text transform="translate(547.3,105.8) rotate(-90)" font-size="8.2" text-anchor="middle" fill="#333">Shared</text>
<text transform="translate(547.3,141.8) rotate(-90)" font-size="8.2" text-anchor="middle" fill="#333">Dynamic</text>
<text transform="translate(547.3,179.1) rotate(-90)" font-size="8.2" text-anchor="middle" fill="#333">Absent</text>
<text x="620.7" y="77.8" font-size="9.3" font-weight="bold" text-anchor="middle" fill="#111">Dynamic</text>
<text x="620.5" y="91.6" font-size="9" text-anchor="middle" fill="#111">Gained</text>
<text x="620.5" y="162.8" font-size="9" text-anchor="middle" fill="#111">Lost</text>
<path d="M578.70,135.40 C592.65,135.40 592.65,135.40 606.60,135.40 C620.85,135.40 620.85,135.40 635.10,135.40 C649.15,135.40 649.15,108.20 663.20,108.20 L663.20,122.40 C649.15,122.40 649.15,150.00 635.10,150.00 C620.85,150.00 620.85,150.00 606.60,150.00 C592.65,150.00 592.65,150.00 578.70,150.00 Z" fill="#A9D2E8"/>
<path d="M578.70,133.20 C592.65,133.20 592.65,133.20 606.60,133.20 C620.85,133.20 620.85,98.70 635.10,98.70 C649.15,98.70 649.15,96.80 663.20,96.80 L663.20,98.70 C649.15,98.70 649.15,100.60 635.10,100.60 C620.85,100.60 620.85,135.10 606.60,135.10 C592.65,135.10 592.65,135.10 578.70,135.10 Z" fill="#7B70B8"/>
<path d="M578.70,177.00 C592.65,177.00 592.65,177.00 606.60,177.00 C620.85,177.00 620.85,179.40 635.10,179.40 C649.15,179.40 649.15,194.60 663.20,194.60 L663.20,212.60 C649.15,212.60 649.15,197.40 635.10,197.40 C620.85,197.40 620.85,195.60 606.60,195.60 C592.65,195.60 592.65,195.60 578.70,195.60 Z" fill="#B07387"/>
<path d="M578.70,196.60 C592.65,196.60 592.65,196.60 606.60,196.60 C620.85,196.60 620.85,198.40 635.10,198.40 C649.15,198.40 649.15,212.80 663.20,212.80 L663.20,220.60 C649.15,220.60 649.15,206.60 635.10,206.60 C620.85,206.60 620.85,205.00 606.60,205.00 C592.65,205.00 592.65,204.10 578.70,204.10 Z" fill="#C496C6"/>
<path d="M578.70,167.70 C592.65,167.70 592.65,167.70 606.60,167.70 C620.85,167.70 620.85,167.70 635.10,167.70 C649.15,167.70 649.15,193.60 663.20,193.60 L663.20,195.50 C649.15,195.50 649.15,169.60 635.10,169.60 C620.85,169.60 620.85,169.60 606.60,169.60 C592.65,169.60 592.65,169.60 578.70,169.60 Z" fill="#DC9398"/>
<rect x="577.30" y="96.8" width="2.8" height="37.00" fill="#fff" stroke="#222" stroke-width="0.6"/>
<rect x="577.00" y="133.80" width="3.4" height="16.20" fill="#1a1a1a"/>
<rect x="605.20" y="96.8" width="2.8" height="26.60" fill="#fff" stroke="#222" stroke-width="0.6"/>
<rect x="604.90" y="123.40" width="3.4" height="26.60" fill="#1a1a1a"/>
<rect x="633.70" y="96.8" width="2.8" height="3.80" fill="#fff" stroke="#222" stroke-width="0.6"/>
<rect x="633.40" y="100.60" width="3.4" height="49.40" fill="#1a1a1a"/>
<rect x="661.80" y="96.8" width="2.8" height="25.60" fill="#d0d0d0" stroke="#222" stroke-width="0.6"/>
<rect x="661.50" y="122.40" width="3.4" height="27.60" fill="#1a1a1a"/>
<rect x="577.30" y="167.5" width="2.8" height="36.60" fill="#fff" stroke="#222" stroke-width="0.6"/>
<rect x="577.00" y="204.10" width="3.4" height="17.60" fill="#1a1a1a"/>
<rect x="605.20" y="167.5" width="2.8" height="26.50" fill="#fff" stroke="#222" stroke-width="0.6"/>
<rect x="604.90" y="194.00" width="3.4" height="27.70" fill="#1a1a1a"/>
<rect x="633.70" y="167.5" width="2.8" height="4.30" fill="#fff" stroke="#222" stroke-width="0.6"/>
<rect x="633.40" y="171.80" width="3.4" height="49.90" fill="#1a1a1a"/>
<rect x="661.80" y="167.5" width="2.8" height="26.50" fill="#d0d0d0" stroke="#222" stroke-width="0.6"/>
<rect x="661.50" y="194.00" width="3.4" height="27.70" fill="#1a1a1a"/>
<rect x="573.6" y="94" width="94.7" height="58.8" fill="none" stroke="#111" stroke-width="1.1"/>
<rect x="573.6" y="165.6" width="94.7" height="58" fill="none" stroke="#111" stroke-width="1.1"/>
<rect x="559.3" y="105.20" width="11.2" height="11" rx="2" fill="#fff" stroke="#222" stroke-width="0.8"/>
<text x="564.9" y="114.00" font-size="9.2" text-anchor="middle" fill="#111">Y</text>
<rect x="559.3" y="132.70" width="11.2" height="11" rx="2" fill="#fff" stroke="#222" stroke-width="0.8"/>
<text x="564.9" y="141.50" font-size="9.2" text-anchor="middle" fill="#111">N</text>
<rect x="559.3" y="176.80" width="11.2" height="11" rx="2" fill="#fff" stroke="#222" stroke-width="0.8"/>
<text x="564.9" y="185.60" font-size="9.2" text-anchor="middle" fill="#111">Y</text>
<rect x="559.3" y="204.90" width="11.2" height="11" rx="2" fill="#fff" stroke="#222" stroke-width="0.8"/>
<text x="564.9" y="213.70" font-size="9.2" text-anchor="middle" fill="#111">N</text>
<text x="1" y="230.7" font-size="13" font-weight="bold">e</text>
<text x="37.6" y="232.6" font-size="9.3" fill="#222">H3K4me3</text>
<rect x="84.2" y="226.7" width="7.4" height="6" rx="1" fill="#DDC871" stroke="#222" stroke-width="0.8"/>
<text x="94.5" y="232.6" font-size="7.3" fill="#222">Shared</text>
<rect x="125.6" y="226.7" width="7.4" height="6" rx="1" fill="#C9536A" stroke="#222" stroke-width="0.8"/>
<text x="135.4" y="232.6" font-size="7.3" fill="#222">Lost</text>
<rect x="157.1" y="226.7" width="7.4" height="6" rx="1" fill="#1D4A92" stroke="#222" stroke-width="0.8"/>
<text x="166.4" y="232.6" font-size="7.3" fill="#222">Gained</text>
<rect x="199.1" y="226.7" width="7.4" height="6" rx="1" fill="#DADADA" stroke="#222" stroke-width="0.8"/>
<text x="208" y="232.6" font-size="7.3" fill="#222">Absent</text>
<text x="37.5" y="245.9" font-size="10.75" fill="#111"><tspan font-weight="bold">H3K4me3</tspan> (Spermatid)</text>
<text x="200.4" y="245.9" font-size="10.75" fill="#111"><tspan font-weight="bold">H3K4me3</tspan> (Sperm)</text>
<text x="364.2" y="245.9" font-size="10.75" fill="#111"><tspan font-weight="bold">H3K4me3</tspan> (Pre−ZGA)</text>
<text x="530.3" y="245.9" font-size="10.75" fill="#111"><tspan font-weight="bold">H3K4me3</tspan> (ZGA)</text>
<path d="M35.8,252.4 L35.8,337.3 L183,337.3" fill="none" stroke="#111" stroke-width="1.35"/>
<line x1="33.8" y1="318.8" x2="35.8" y2="318.8" stroke="#111" stroke-width="0.8"/>
<text x="33.10" y="321.80" font-size="8.2" text-anchor="end" fill="#333">2</text>
<line x1="33.8" y1="297.2" x2="35.8" y2="297.2" stroke="#111" stroke-width="0.8"/>
<text x="33.10" y="300.20" font-size="8.2" text-anchor="end" fill="#333">4</text>
<line x1="33.8" y1="275.6" x2="35.8" y2="275.6" stroke="#111" stroke-width="0.8"/>
<text x="33.10" y="278.60" font-size="8.2" text-anchor="end" fill="#333">6</text>
<line x1="33.8" y1="254.0" x2="35.8" y2="254.0" stroke="#111" stroke-width="0.8"/>
<text x="33.10" y="257.00" font-size="8.2" text-anchor="end" fill="#333">8</text>
<text x="108.90" y="346.6" font-size="8.25" text-anchor="middle" fill="#222">+/−1kb of TSS</text>
<path d="M200.8,252.8 L200.8,337.3 L348.2,337.3" fill="none" stroke="#111" stroke-width="1.35"/>
<line x1="198.8" y1="315.2" x2="200.8" y2="315.2" stroke="#111" stroke-width="0.8"/>
<text x="198.10" y="318.20" font-size="8.2" text-anchor="end" fill="#333">2</text>
<line x1="198.8" y1="291.5" x2="200.8" y2="291.5" stroke="#111" stroke-width="0.8"/>
<text x="198.10" y="294.50" font-size="8.2" text-anchor="end" fill="#333">4</text>
<line x1="198.8" y1="267.8" x2="200.8" y2="267.8" stroke="#111" stroke-width="0.8"/>
<text x="198.10" y="270.80" font-size="8.2" text-anchor="end" fill="#333">6</text>
<text x="274.00" y="346.6" font-size="8.25" text-anchor="middle" fill="#222">+/−1kb of TSS</text>
<path d="M363.8,251.6 L363.8,337.3 L511,337.3" fill="none" stroke="#111" stroke-width="1.35"/>
<line x1="361.8" y1="335.4" x2="363.8" y2="335.4" stroke="#111" stroke-width="0.8"/>
<text x="361.10" y="338.40" font-size="8.2" text-anchor="end" fill="#333">0</text>
<line x1="361.8" y1="316.25" x2="363.8" y2="316.25" stroke="#111" stroke-width="0.8"/>
<text x="361.10" y="319.25" font-size="8.2" text-anchor="end" fill="#333">1</text>
<line x1="361.8" y1="297.1" x2="363.8" y2="297.1" stroke="#111" stroke-width="0.8"/>
<text x="361.10" y="300.10" font-size="8.2" text-anchor="end" fill="#333">2</text>
<line x1="361.8" y1="277.95" x2="363.8" y2="277.95" stroke="#111" stroke-width="0.8"/>
<text x="361.10" y="280.95" font-size="8.2" text-anchor="end" fill="#333">3</text>
<line x1="361.8" y1="258.8" x2="363.8" y2="258.8" stroke="#111" stroke-width="0.8"/>
<text x="361.10" y="261.80" font-size="8.2" text-anchor="end" fill="#333">4</text>
<text x="436.90" y="346.6" font-size="8.25" text-anchor="middle" fill="#222">+/−1kb of TSS</text>
<path d="M529.8,251.6 L529.8,337.3 L677,337.3" fill="none" stroke="#111" stroke-width="1.35"/>
<line x1="527.8" y1="335.9" x2="529.8" y2="335.9" stroke="#111" stroke-width="0.8"/>
<text x="527.10" y="338.90" font-size="8.2" text-anchor="end" fill="#333">0</text>
<line x1="527.8" y1="308.3" x2="529.8" y2="308.3" stroke="#111" stroke-width="0.8"/>
<text x="527.10" y="311.30" font-size="8.2" text-anchor="end" fill="#333">2</text>
<line x1="527.8" y1="280.7" x2="529.8" y2="280.7" stroke="#111" stroke-width="0.8"/>
<text x="527.10" y="283.70" font-size="8.2" text-anchor="end" fill="#333">4</text>
<line x1="527.8" y1="253.1" x2="529.8" y2="253.1" stroke="#111" stroke-width="0.8"/>
<text x="527.10" y="256.10" font-size="8.2" text-anchor="end" fill="#333">6</text>
<text x="602.90" y="346.6" font-size="8.25" text-anchor="middle" fill="#222">+/−1kb of TSS</text>
<text transform="translate(16.0,298.5) rotate(-90)" font-size="8.25" text-anchor="middle" fill="#333">Mean H3K4me3 intensity</text>
<text transform="translate(25.3,296.5) rotate(-90)" font-size="8.2" text-anchor="middle" fill="#333">[log2]</text>
<path d="M37.00,331.60 C50.82,331.30 95.57,329.80 119.90,329.80 C144.23,329.80 172.48,331.30 183.00,331.60" fill="none" stroke="#D9D9D9" stroke-width="2.1" stroke-linejoin="round" stroke-linecap="round"/>
<path d="M37.00,323.20 C40.50,323.05 51.38,323.35 58.00,322.30 C64.62,321.25 70.47,319.17 76.70,316.90 C82.93,314.63 91.12,310.45 95.40,308.70 C99.68,306.95 98.32,308.15 102.40,306.40 C106.48,304.65 114.45,298.90 119.90,298.20 C125.35,297.50 129.83,300.63 135.10,302.20 C140.37,303.77 145.65,305.53 151.50,307.60 C157.35,309.67 164.95,312.97 170.20,314.60 C175.45,316.23 180.87,316.93 183.00,317.40" fill="none" stroke="#C9536A" stroke-width="2.1" stroke-linejoin="round" stroke-linecap="round"/>
<path d="M37.00,329.21 L39.00,329.16 L41.00,329.45 L43.00,329.19 L45.00,329.46 L47.00,329.41 L49.00,329.29 L51.00,329.55 L53.00,329.35 L55.00,329.59 L57.00,329.44 L59.00,329.49 L61.00,329.69 L63.00,329.93 L65.00,329.61 L67.13,329.41 L69.25,329.35 L71.38,329.26 L73.51,328.82 L75.64,328.48 L77.76,328.51 L79.89,327.79 L82.02,327.94 L84.15,327.40 L86.27,327.08 L88.40,326.81 L90.48,326.90 L92.56,327.16 L94.63,326.84 L96.71,327.04 L98.79,327.07 L100.87,326.94 L102.94,327.02 L105.02,326.78 L107.10,326.78 L109.23,326.54 L111.37,326.46 L113.50,326.01 L115.63,325.64 L117.77,325.46 L119.90,325.08 L121.92,325.17 L123.94,325.59 L125.95,325.72 L127.97,325.66 L129.99,326.00 L132.01,326.15 L134.03,326.50 L136.05,326.60 L138.06,326.55 L140.08,327.07 L142.10,326.81 L144.18,327.00 L146.26,327.22 L148.33,326.96 L150.41,327.17 L152.49,326.99 L154.57,327.35 L156.64,327.44 L158.72,327.39 L160.80,327.59 L162.82,327.43 L164.84,327.75 L166.85,327.83 L168.87,327.95 L170.89,328.01 L172.91,328.33 L174.93,328.51 L176.95,328.41 L178.96,328.63 L180.98,328.45 L183.00,328.90" fill="none" stroke="#1D4A92" stroke-width="2.1" stroke-linejoin="round" stroke-linecap="round"/>
<path d="M37.00,322.30 C39.73,321.02 48.33,317.83 53.40,314.60 C58.47,311.37 62.73,307.77 67.40,302.90 C72.07,298.03 77.12,290.85 81.40,285.40 C85.68,279.95 90.18,273.52 93.10,270.20 C96.02,266.88 96.97,266.47 98.90,265.50 C100.83,264.53 102.95,264.98 104.70,264.40 C106.45,263.82 106.87,263.48 109.40,262.00 C111.93,260.52 116.78,256.08 119.90,255.50 C123.02,254.92 125.17,256.83 128.10,258.50 C131.03,260.17 134.38,262.77 137.50,265.50 C140.62,268.23 142.92,270.42 146.80,274.90 C150.68,279.38 156.52,287.35 160.80,292.40 C165.08,297.45 168.80,302.02 172.50,305.20 C176.20,308.38 181.25,310.45 183.00,311.50" fill="none" stroke="#DDC871" stroke-width="2.3" stroke-linejoin="round" stroke-linecap="round"/>
<path d="M200.80,332.60 C215.40,332.32 263.87,330.78 288.40,330.90 C312.93,331.02 338.07,332.90 348.00,333.30" fill="none" stroke="#D9D9D9" stroke-width="2.1" stroke-linejoin="round" stroke-linecap="round"/>
<path d="M200.80,322.70 C203.73,322.12 211.58,320.75 218.40,319.20 C225.22,317.65 235.08,315.33 241.70,313.40 C248.32,311.47 253.03,308.77 258.10,307.60 C263.17,306.43 267.05,307.18 272.10,306.40 C277.15,305.62 283.33,303.22 288.40,302.90 C293.47,302.58 297.05,303.33 302.50,304.50 C307.95,305.67 313.52,308.03 321.10,309.90 C328.68,311.77 343.52,314.73 348.00,315.70" fill="none" stroke="#C9536A" stroke-width="2.1" stroke-linejoin="round" stroke-linecap="round"/>
<path d="M200.80,329.71 L203.00,329.76 L205.20,330.15 L207.40,330.00 L209.60,330.37 L211.80,330.42 L214.00,330.40 L216.20,330.77 L218.40,330.67 L220.52,330.55 L222.64,330.05 L224.75,329.74 L226.87,329.59 L228.99,329.47 L231.11,328.80 L233.23,328.53 L235.35,328.42 L237.46,328.26 L239.58,327.76 L241.70,327.35 L243.82,327.75 L245.94,327.39 L248.05,327.91 L250.17,327.73 L252.29,327.77 L254.41,327.86 L256.53,328.07 L258.65,328.43 L260.76,328.22 L262.88,328.53 L265.00,328.67 L267.13,328.28 L269.25,328.11 L271.38,327.62 L273.51,327.36 L275.64,327.18 L277.76,327.16 L279.89,326.78 L282.02,326.47 L284.15,326.35 L286.27,326.03 L288.40,325.70 L290.53,326.09 L292.65,326.19 L294.78,326.11 L296.91,326.42 L299.04,326.54 L301.16,326.86 L303.29,326.93 L305.42,326.86 L307.55,327.35 L309.67,327.06 L311.80,327.36 L313.93,327.75 L316.05,327.66 L318.18,328.05 L320.31,328.04 L322.44,328.58 L324.56,328.84 L326.69,328.96 L328.82,329.33 L330.95,329.27 L333.07,329.68 L335.20,329.85 L337.33,329.72 L339.47,329.54 L341.60,329.62 L343.73,329.56 L345.87,329.20 L348.00,329.18" fill="none" stroke="#1D4A92" stroke-width="2.1" stroke-linejoin="round" stroke-linecap="round"/>
<path d="M200.80,316.40 C203.73,314.65 212.75,310.48 218.40,305.90 C224.05,301.32 229.65,294.47 234.70,288.90 C239.75,283.33 244.80,276.58 248.70,272.50 C252.60,268.42 255.57,266.03 258.10,264.40 C260.63,262.77 261.57,262.78 263.90,262.70 C266.23,262.62 269.57,264.40 272.10,263.90 C274.63,263.40 276.38,260.98 279.10,259.70 C281.82,258.42 285.28,256.20 288.40,256.20 C291.52,256.20 293.90,257.17 297.80,259.70 C301.70,262.23 307.13,266.93 311.80,271.40 C316.47,275.87 321.52,282.03 325.80,286.50 C330.08,290.97 333.80,295.27 337.50,298.20 C341.20,301.13 346.25,303.12 348.00,304.10" fill="none" stroke="#DDC871" stroke-width="2.3" stroke-linejoin="round" stroke-linecap="round"/>
<path d="M364.50,333.50 C377.08,333.33 415.58,332.50 440.00,332.50 C464.42,332.50 499.17,333.33 511.00,333.50" fill="none" stroke="#D9D9D9" stroke-width="2.1" stroke-linejoin="round" stroke-linecap="round"/>
<path d="M364.50,329.43 L366.54,329.84 L368.58,329.57 L370.62,329.88 L372.66,329.89 L374.70,329.08 L376.74,328.99 L378.78,330.12 L380.82,329.29 L382.86,329.23 L384.91,330.28 L386.95,329.52 L388.99,330.01 L391.03,329.49 L393.07,329.69 L395.11,328.99 L397.15,329.64 L399.19,329.95 L401.23,329.44 L403.27,329.73 L405.31,329.61 L407.35,328.74 L409.39,329.69 L411.43,329.43 L413.47,329.00 L415.51,328.60 L417.55,329.75 L419.59,329.18 L421.64,329.50 L423.68,329.70 L425.72,329.45 L427.76,329.72 L429.80,328.96 L431.84,329.51 L433.88,328.99 L435.92,329.65 L437.96,329.55 L440.00,328.44 L442.03,328.47 L444.06,328.57 L446.09,329.60 L448.11,328.84 L450.14,329.09 L452.17,328.62 L454.20,328.89 L456.23,328.70 L458.26,328.64 L460.29,328.95 L462.31,328.93 L464.34,329.36 L466.37,329.03 L468.40,329.36 L470.43,329.24 L472.46,329.41 L474.49,328.95 L476.51,328.22 L478.54,329.18 L480.57,329.31 L482.60,329.21 L484.63,328.72 L486.66,328.91 L488.69,328.18 L490.71,329.04 L492.74,328.66 L494.77,328.24 L496.80,327.91 L498.83,329.00 L500.86,329.17 L502.89,327.89 L504.91,328.87 L506.94,328.31 L508.97,327.93 L511.00,328.11" fill="none" stroke="#1D4A92" stroke-width="2.0" stroke-linejoin="round" stroke-linecap="round"/>
<path d="M364.50,332.27 L366.54,332.35 L368.58,332.33 L370.62,332.45 L372.66,332.08 L374.70,332.25 L376.74,330.91 L378.78,331.43 L380.82,332.01 L382.86,331.51 L384.91,331.77 L386.95,330.58 L388.99,330.99 L391.03,330.59 L393.07,330.91 L395.11,330.87 L397.15,329.99 L399.19,330.19 L401.23,330.19 L403.27,330.99 L405.31,330.69 L407.35,329.75 L409.39,330.55 L411.43,329.54 L413.47,330.12 L415.51,329.35 L417.55,329.08 L419.59,330.21 L421.64,329.20 L423.68,329.12 L425.72,330.10 L427.76,329.86 L429.80,328.95 L431.84,329.80 L433.88,329.12 L435.92,329.23 L437.96,328.48 L440.00,329.42 L442.03,329.13 L444.06,329.57 L446.09,329.53 L448.11,328.76 L450.14,328.91 L452.17,328.69 L454.20,328.72 L456.23,328.67 L458.26,329.06 L460.29,329.54 L462.31,328.76 L464.34,329.77 L466.37,329.35 L468.40,329.37 L470.43,330.15 L472.46,329.73 L474.49,329.56 L476.51,329.85 L478.54,330.23 L480.57,329.38 L482.60,330.73 L484.63,329.45 L486.66,330.53 L488.69,330.72 L490.71,329.63 L492.74,330.76 L494.77,330.23 L496.80,330.59 L498.83,329.85 L500.86,329.97 L502.89,330.21 L504.91,331.36 L506.94,330.36 L508.97,331.20 L511.00,331.50" fill="none" stroke="#C9536A" stroke-width="2.0" stroke-linejoin="round" stroke-linecap="round"/>
<path d="M363.80,326.30 C366.73,325.63 376.53,323.87 381.40,322.30 C386.27,320.73 389.12,319.55 393.00,316.90 C396.88,314.25 401.18,310.88 404.70,306.40 C408.22,301.92 410.98,295.65 414.10,290.00 C417.22,284.35 419.90,276.97 423.40,272.50 C426.90,268.03 431.60,265.65 435.10,263.20 C438.60,260.75 441.87,258.90 444.40,257.80 C446.93,256.70 447.97,255.90 450.30,256.60 C452.63,257.30 455.48,259.15 458.40,262.00 C461.32,264.85 464.68,269.03 467.80,273.70 C470.92,278.37 473.60,284.93 477.10,290.00 C480.60,295.07 484.90,300.20 488.80,304.10 C492.70,308.00 496.80,310.88 500.50,313.40 C504.20,315.92 509.25,318.23 511.00,319.20" fill="none" stroke="#DDC871" stroke-width="2.3" stroke-linejoin="round" stroke-linecap="round"/>
<path d="M529.80,334.00 C544.40,333.70 592.87,332.20 617.40,332.20 C641.93,332.20 667.07,333.70 677.00,334.00" fill="none" stroke="#D9D9D9" stroke-width="2.1" stroke-linejoin="round" stroke-linecap="round"/>
<path d="M529.80,332.10 C538.57,331.90 570.92,331.48 582.40,330.90 C593.88,330.32 592.87,329.10 598.70,328.60 C604.53,328.10 612.72,327.70 617.40,327.90 C622.08,328.10 616.87,329.18 626.80,329.80 C636.73,330.42 668.63,331.30 677.00,331.60" fill="none" stroke="#C9536A" stroke-width="2.1" stroke-linejoin="round" stroke-linecap="round"/>
<path d="M529.80,326.18 L532.00,325.91 L534.20,326.11 L536.40,325.55 L538.60,325.73 L540.80,325.46 L543.00,325.09 L545.20,325.26 L547.40,324.78 L549.47,324.92 L551.53,324.53 L553.60,324.41 L555.67,324.51 L557.73,324.66 L559.80,324.04 L561.87,323.97 L563.93,324.12 L566.00,324.21 L568.34,323.49 L570.68,322.91 L573.02,322.85 L575.36,321.74 L577.70,321.85 L580.04,321.13 L582.38,320.71 L584.72,320.37 L587.06,320.19 L589.40,320.22 L591.74,318.92 L594.08,318.34 L596.42,317.52 L598.76,316.47 L601.10,315.73 L603.45,315.99 L605.80,316.59 L607.55,313.79 L609.30,311.23 L611.32,310.57 L613.35,310.02 L615.38,309.73 L617.40,309.17 L619.41,309.09 L621.43,309.46 L623.44,309.43 L625.46,309.14 L627.47,309.39 L629.49,309.39 L631.50,309.66 L633.50,309.80 L635.50,309.74 L637.50,310.46 L639.50,310.10 L641.50,310.56 L643.50,311.04 L645.50,310.86 L647.58,311.40 L649.66,311.40 L651.73,312.15 L653.81,312.53 L655.89,312.71 L657.97,313.23 L660.04,313.15 L662.12,313.73 L664.20,313.97 L666.33,314.34 L668.47,314.64 L670.60,315.29 L672.73,315.74 L674.87,315.80 L677.00,316.31" fill="none" stroke="#1D4A92" stroke-width="2.1" stroke-linejoin="round" stroke-linecap="round"/>
<path d="M529.80,323.90 C532.73,323.12 542.53,320.95 547.40,319.20 C552.27,317.45 555.12,316.12 559.00,313.40 C562.88,310.68 567.18,306.80 570.70,302.90 C574.22,299.00 577.37,293.70 580.10,290.00 C582.83,286.30 584.77,283.03 587.10,280.70 C589.43,278.37 591.77,277.75 594.10,276.00 C596.43,274.25 598.38,272.73 601.10,270.20 C603.82,267.67 607.68,263.13 610.40,260.80 C613.12,258.47 615.07,256.38 617.40,256.20 C619.73,256.02 621.67,257.37 624.40,259.70 C627.13,262.03 630.68,266.32 633.80,270.20 C636.92,274.08 639.60,278.52 643.10,283.00 C646.60,287.48 650.90,293.20 654.80,297.10 C658.70,301.00 662.80,304.00 666.50,306.40 C670.20,308.80 675.25,310.65 677.00,311.50" fill="none" stroke="#DDC871" stroke-width="2.3" stroke-linejoin="round" stroke-linecap="round"/>
<path d="M35.4,353.1 L35.4,439.0 L169.8,439.0" fill="none" stroke="#111" stroke-width="1.35"/>
<line x1="33.4" y1="429.4" x2="35.4" y2="429.4" stroke="#111" stroke-width="0.8"/>
<text x="32.70" y="432.40" font-size="8.2" text-anchor="end" fill="#333">0</text>
<line x1="33.4" y1="411.4" x2="35.4" y2="411.4" stroke="#111" stroke-width="0.8"/>
<text x="32.70" y="414.40" font-size="8.2" text-anchor="end" fill="#333">250</text>
<line x1="33.4" y1="393.4" x2="35.4" y2="393.4" stroke="#111" stroke-width="0.8"/>
<text x="32.70" y="396.40" font-size="8.2" text-anchor="end" fill="#333">500</text>
<line x1="33.4" y1="375.4" x2="35.4" y2="375.4" stroke="#111" stroke-width="0.8"/>
<text x="32.70" y="378.40" font-size="8.2" text-anchor="end" fill="#333">750</text>
<line x1="33.4" y1="357.4" x2="35.4" y2="357.4" stroke="#111" stroke-width="0.8"/>
<text x="32.70" y="360.40" font-size="8.2" text-anchor="end" fill="#333">1000</text>
<line x1="54.4" y1="439.0" x2="54.4" y2="441.0" stroke="#111" stroke-width="0.8"/>
<text x="54.4" y="447.8" font-size="7.9" text-anchor="middle" fill="#222">Shared</text>
<line x1="86.9" y1="439.0" x2="86.9" y2="441.0" stroke="#111" stroke-width="0.8"/>
<text x="86.9" y="447.8" font-size="7.9" text-anchor="middle" fill="#222">Lost</text>
<line x1="118.3" y1="439.0" x2="118.3" y2="441.0" stroke="#111" stroke-width="0.8"/>
<text x="118.3" y="447.8" font-size="7.9" text-anchor="middle" fill="#222">Gained</text>
<line x1="150.2" y1="439.0" x2="150.2" y2="441.0" stroke="#111" stroke-width="0.8"/>
<text x="150.2" y="447.8" font-size="7.9" text-anchor="middle" fill="#222">Absent</text>
<path d="M199.6,353.3 L199.6,438.9 L336.8,438.9" fill="none" stroke="#111" stroke-width="1.35"/>
<line x1="197.6" y1="429.4" x2="199.6" y2="429.4" stroke="#111" stroke-width="0.8"/>
<text x="196.90" y="432.40" font-size="8.2" text-anchor="end" fill="#333">0</text>
<line x1="197.6" y1="409.3" x2="199.6" y2="409.3" stroke="#111" stroke-width="0.8"/>
<text x="196.90" y="412.30" font-size="8.2" text-anchor="end" fill="#333">250</text>
<line x1="197.6" y1="389.2" x2="199.6" y2="389.2" stroke="#111" stroke-width="0.8"/>
<text x="196.90" y="392.20" font-size="8.2" text-anchor="end" fill="#333">500</text>
<line x1="197.6" y1="369.1" x2="199.6" y2="369.1" stroke="#111" stroke-width="0.8"/>
<text x="196.90" y="372.10" font-size="8.2" text-anchor="end" fill="#333">750</text>
<line x1="219.2" y1="438.9" x2="219.2" y2="440.9" stroke="#111" stroke-width="0.8"/>
<text x="219.2" y="447.8" font-size="7.9" text-anchor="middle" fill="#222">Shared</text>
<line x1="251.4" y1="438.9" x2="251.4" y2="440.9" stroke="#111" stroke-width="0.8"/>
<text x="251.4" y="447.8" font-size="7.9" text-anchor="middle" fill="#222">Lost</text>
<line x1="283.7" y1="438.9" x2="283.7" y2="440.9" stroke="#111" stroke-width="0.8"/>
<text x="283.7" y="447.8" font-size="7.9" text-anchor="middle" fill="#222">Gained</text>
<line x1="316.5" y1="438.9" x2="316.5" y2="440.9" stroke="#111" stroke-width="0.8"/>
<text x="316.5" y="447.8" font-size="7.9" text-anchor="middle" fill="#222">Absent</text>
<path d="M362.8,353.2 L362.8,438.9 L499.8,438.9" fill="none" stroke="#111" stroke-width="1.35"/>
<line x1="360.8" y1="431" x2="362.8" y2="431" stroke="#111" stroke-width="0.8"/>
<text x="360.10" y="434.00" font-size="8.2" text-anchor="end" fill="#333">0</text>
<line x1="360.8" y1="408.6" x2="362.8" y2="408.6" stroke="#111" stroke-width="0.8"/>
<text x="360.10" y="411.60" font-size="8.2" text-anchor="end" fill="#333">200</text>
<line x1="360.8" y1="386.2" x2="362.8" y2="386.2" stroke="#111" stroke-width="0.8"/>
<text x="360.10" y="389.20" font-size="8.2" text-anchor="end" fill="#333">400</text>
<line x1="360.8" y1="363.8" x2="362.8" y2="363.8" stroke="#111" stroke-width="0.8"/>
<text x="360.10" y="366.80" font-size="8.2" text-anchor="end" fill="#333">600</text>
<line x1="382.4" y1="438.9" x2="382.4" y2="440.9" stroke="#111" stroke-width="0.8"/>
<text x="382.4" y="447.8" font-size="7.9" text-anchor="middle" fill="#222">Shared</text>
<line x1="414.6" y1="438.9" x2="414.6" y2="440.9" stroke="#111" stroke-width="0.8"/>
<text x="414.6" y="447.8" font-size="7.9" text-anchor="middle" fill="#222">Gained</text>
<line x1="447.3" y1="438.9" x2="447.3" y2="440.9" stroke="#111" stroke-width="0.8"/>
<text x="447.3" y="447.8" font-size="7.9" text-anchor="middle" fill="#222">Lost</text>
<line x1="480" y1="438.9" x2="480" y2="440.9" stroke="#111" stroke-width="0.8"/>
<text x="480" y="447.8" font-size="7.9" text-anchor="middle" fill="#222">Absent</text>
<path d="M528.7,353.1 L528.7,438.9 L665.8,438.9" fill="none" stroke="#111" stroke-width="1.35"/>
<line x1="526.7" y1="430.3" x2="528.7" y2="430.3" stroke="#111" stroke-width="0.8"/>
<text x="526.00" y="433.30" font-size="8.2" text-anchor="end" fill="#333">0</text>
<line x1="526.7" y1="411.6" x2="528.7" y2="411.6" stroke="#111" stroke-width="0.8"/>
<text x="526.00" y="414.60" font-size="8.2" text-anchor="end" fill="#333">200</text>
<line x1="526.7" y1="392.9" x2="528.7" y2="392.9" stroke="#111" stroke-width="0.8"/>
<text x="526.00" y="395.90" font-size="8.2" text-anchor="end" fill="#333">400</text>
<line x1="526.7" y1="374.2" x2="528.7" y2="374.2" stroke="#111" stroke-width="0.8"/>
<text x="526.00" y="377.20" font-size="8.2" text-anchor="end" fill="#333">600</text>
<line x1="526.7" y1="355.5" x2="528.7" y2="355.5" stroke="#111" stroke-width="0.8"/>
<text x="526.00" y="358.50" font-size="8.2" text-anchor="end" fill="#333">800</text>
<line x1="548.4" y1="438.9" x2="548.4" y2="440.9" stroke="#111" stroke-width="0.8"/>
<text x="548.4" y="447.8" font-size="7.9" text-anchor="middle" fill="#222">Shared</text>
<line x1="581.1" y1="438.9" x2="581.1" y2="440.9" stroke="#111" stroke-width="0.8"/>
<text x="581.1" y="447.8" font-size="7.9" text-anchor="middle" fill="#222">Gained</text>
<line x1="613.1" y1="438.9" x2="613.1" y2="440.9" stroke="#111" stroke-width="0.8"/>
<text x="613.1" y="447.8" font-size="7.9" text-anchor="middle" fill="#222">Lost</text>
<line x1="645.8" y1="438.9" x2="645.8" y2="440.9" stroke="#111" stroke-width="0.8"/>
<text x="645.8" y="447.8" font-size="7.9" text-anchor="middle" fill="#222">Absent</text>
<text transform="translate(13.9,397.3) rotate(-90)" font-size="7.95" text-anchor="middle" fill="#333">H3K4me3 enrichment</text>
<path d="M54.70,362.00 C55.32,362.33 56.95,363.17 58.40,364.00 C59.85,364.83 61.90,365.83 63.40,367.00 C64.90,368.17 66.32,369.50 67.40,371.00 C68.48,372.50 69.43,374.50 69.90,376.00 C70.37,377.50 70.37,378.50 70.20,380.00 C70.03,381.50 69.78,383.17 68.90,385.00 C68.02,386.83 66.23,389.00 64.90,391.00 C63.57,393.00 62.07,395.00 60.90,397.00 C59.73,399.00 58.65,401.00 57.90,403.00 C57.15,405.00 56.78,407.00 56.40,409.00 C56.02,411.00 55.87,411.83 55.60,415.00 C55.33,418.17 54.93,425.83 54.80,428.00 L54.00,428.00 C53.87,425.83 53.47,418.17 53.20,415.00 C52.93,411.83 52.78,411.00 52.40,409.00 C52.02,407.00 51.65,405.00 50.90,403.00 C50.15,401.00 49.07,399.00 47.90,397.00 C46.73,395.00 45.23,393.00 43.90,391.00 C42.57,389.00 40.78,386.83 39.90,385.00 C39.02,383.17 38.77,381.50 38.60,380.00 C38.43,378.50 38.43,377.50 38.90,376.00 C39.37,374.50 40.32,372.50 41.40,371.00 C42.48,369.50 43.90,368.17 45.40,367.00 C46.90,365.83 48.95,364.83 50.40,364.00 C51.85,363.17 53.48,362.33 54.10,362.00 Z" fill="#DCC672" stroke="#111" stroke-width="0.6"/>
<line x1="54.4" y1="356.6" x2="54.4" y2="428" stroke="#111" stroke-width="0.6"/>
<line x1="54.4" y1="404" x2="54.4" y2="428" stroke="#111" stroke-width="2.7" stroke-linecap="round"/>
<rect x="51.20" y="375.8" width="6.40" height="12.70" fill="#fff" stroke="#111" stroke-width="0.7"/>
<line x1="51.20" y1="382.2" x2="57.60" y2="382.2" stroke="#111" stroke-width="0.9"/>
<path d="M87.30,380.00 C87.73,381.00 88.88,384.00 89.90,386.00 C90.92,388.00 92.15,390.00 93.40,392.00 C94.65,394.00 96.15,396.00 97.40,398.00 C98.65,400.00 100.10,402.00 100.90,404.00 C101.70,406.00 102.20,408.00 102.20,410.00 C102.20,412.00 101.95,414.00 100.90,416.00 C99.85,418.00 97.57,420.00 95.90,422.00 C94.23,424.00 92.33,426.00 90.90,428.00 C89.47,430.00 87.90,433.00 87.30,434.00 L86.50,434.00 C85.90,433.00 84.33,430.00 82.90,428.00 C81.47,426.00 79.57,424.00 77.90,422.00 C76.23,420.00 73.95,418.00 72.90,416.00 C71.85,414.00 71.60,412.00 71.60,410.00 C71.60,408.00 72.10,406.00 72.90,404.00 C73.70,402.00 75.15,400.00 76.40,398.00 C77.65,396.00 79.15,394.00 80.40,392.00 C81.65,390.00 82.88,388.00 83.90,386.00 C84.92,384.00 86.07,381.00 86.50,380.00 Z" fill="#CD5D6E" stroke="#111" stroke-width="0.6"/>
<line x1="86.9" y1="370.7" x2="86.9" y2="434" stroke="#111" stroke-width="0.6"/>
<line x1="86.9" y1="371" x2="86.9" y2="384" stroke="#111" stroke-width="2.7" stroke-linecap="round"/>
<rect x="83.70" y="400.8" width="6.40" height="13.30" fill="#fff" stroke="#111" stroke-width="0.7"/>
<line x1="83.70" y1="407.7" x2="90.10" y2="407.7" stroke="#111" stroke-width="0.9"/>
<path d="M118.70,409.00 C119.13,409.67 119.87,411.67 121.30,413.00 C122.73,414.33 125.17,415.67 127.30,417.00 C129.43,418.33 133.27,419.83 134.10,421.00 C134.93,422.17 133.60,423.00 132.30,424.00 C131.00,425.00 128.30,426.00 126.30,427.00 C124.30,428.00 121.58,429.33 120.30,430.00 C119.02,430.67 118.88,430.83 118.60,431.00 L118.00,431.00 C117.72,430.83 117.58,430.67 116.30,430.00 C115.02,429.33 112.30,428.00 110.30,427.00 C108.30,426.00 105.60,425.00 104.30,424.00 C103.00,423.00 101.67,422.17 102.50,421.00 C103.33,419.83 107.17,418.33 109.30,417.00 C111.43,415.67 113.87,414.33 115.30,413.00 C116.73,411.67 117.47,409.67 117.90,409.00 Z" fill="#1E4B94" stroke="#111" stroke-width="0.6"/>
<line x1="118.3" y1="402.6" x2="118.3" y2="431" stroke="#111" stroke-width="0.6"/>
<line x1="118.3" y1="403" x2="118.3" y2="412" stroke="#111" stroke-width="2.7" stroke-linecap="round"/>
<rect x="115.10" y="418" width="6.40" height="5.00" fill="#fff" stroke="#111" stroke-width="0.7"/>
<line x1="115.10" y1="420.5" x2="121.50" y2="420.5" stroke="#111" stroke-width="0.9"/>
<path d="M150.70,410.00 C151.12,410.83 152.45,413.33 153.20,415.00 C153.95,416.67 154.95,418.50 155.20,420.00 C155.45,421.50 154.45,423.00 154.70,424.00 C154.95,425.00 154.87,425.33 156.70,426.00 C158.53,426.67 166.73,427.40 165.70,428.00 C164.67,428.60 153.03,429.33 150.50,429.60 L149.90,429.60 C147.37,429.33 135.73,428.60 134.70,428.00 C133.67,427.40 141.87,426.67 143.70,426.00 C145.53,425.33 145.45,425.00 145.70,424.00 C145.95,423.00 144.95,421.50 145.20,420.00 C145.45,418.50 146.45,416.67 147.20,415.00 C147.95,413.33 149.28,410.83 149.70,410.00 Z" fill="#E6E6E6" stroke="#111" stroke-width="0.6"/>
<line x1="150.2" y1="397.5" x2="150.2" y2="429" stroke="#111" stroke-width="0.6"/>
<line x1="150.2" y1="405" x2="150.2" y2="418" stroke="#111" stroke-width="2.7" stroke-linecap="round"/>
<circle cx="150.2" cy="397.8" r="1.3" fill="#111"/>
<circle cx="150.2" cy="401" r="1.3" fill="#111"/>
<rect x="147.00" y="419.2" width="6.40" height="8.80" fill="#fff" stroke="#111" stroke-width="0.7"/>
<line x1="147.00" y1="424" x2="153.40" y2="424" stroke="#111" stroke-width="0.9"/>
<path d="M219.60,363.00 C220.37,363.67 222.43,365.50 224.20,367.00 C225.97,368.50 228.27,369.88 230.20,372.00 C232.13,374.12 235.30,377.37 235.80,379.70 C236.30,382.03 234.63,383.95 233.20,386.00 C231.77,388.05 228.95,390.00 227.20,392.00 C225.45,394.00 223.78,396.00 222.70,398.00 C221.62,400.00 221.12,402.00 220.70,404.00 C220.28,406.00 220.38,405.83 220.20,410.00 C220.02,414.17 219.70,425.83 219.60,429.00 L218.80,429.00 C218.70,425.83 218.38,414.17 218.20,410.00 C218.02,405.83 218.12,406.00 217.70,404.00 C217.28,402.00 216.78,400.00 215.70,398.00 C214.62,396.00 212.95,394.00 211.20,392.00 C209.45,390.00 206.63,388.05 205.20,386.00 C203.77,383.95 202.10,382.03 202.60,379.70 C203.10,377.37 206.27,374.12 208.20,372.00 C210.13,369.88 212.43,368.50 214.20,367.00 C215.97,365.50 218.03,363.67 218.80,363.00 Z" fill="#DCC672" stroke="#111" stroke-width="0.6"/>
<line x1="219.2" y1="358.6" x2="219.2" y2="429" stroke="#111" stroke-width="0.6"/>
<line x1="219.2" y1="400" x2="219.2" y2="429" stroke="#111" stroke-width="2.7" stroke-linecap="round"/>
<circle cx="219.2" cy="358.8" r="1.3" fill="#111"/>
<rect x="216.00" y="376" width="6.40" height="9.90" fill="#fff" stroke="#111" stroke-width="0.7"/>
<line x1="216.00" y1="380" x2="222.40" y2="380" stroke="#111" stroke-width="0.9"/>
<path d="M251.80,376.00 C252.23,377.50 253.30,382.17 254.40,385.00 C255.50,387.83 257.07,390.50 258.40,393.00 C259.73,395.50 260.80,397.50 262.40,400.00 C264.00,402.50 267.33,405.67 268.00,408.00 C268.67,410.33 267.50,412.00 266.40,414.00 C265.30,416.00 263.07,417.83 261.40,420.00 C259.73,422.17 258.00,424.50 256.40,427.00 C254.80,429.50 252.57,433.67 251.80,435.00 L251.00,435.00 C250.23,433.67 248.00,429.50 246.40,427.00 C244.80,424.50 243.07,422.17 241.40,420.00 C239.73,417.83 237.50,416.00 236.40,414.00 C235.30,412.00 234.13,410.33 234.80,408.00 C235.47,405.67 238.80,402.50 240.40,400.00 C242.00,397.50 243.07,395.50 244.40,393.00 C245.73,390.50 247.30,387.83 248.40,385.00 C249.50,382.17 250.57,377.50 251.00,376.00 Z" fill="#CD5D6E" stroke="#111" stroke-width="0.6"/>
<line x1="251.4" y1="366" x2="251.4" y2="435" stroke="#111" stroke-width="0.6"/>
<line x1="251.4" y1="370" x2="251.4" y2="380" stroke="#111" stroke-width="2.7" stroke-linecap="round"/>
<circle cx="251.4" cy="366.5" r="1.3" fill="#111"/>
<rect x="248.20" y="399.6" width="6.40" height="16.10" fill="#fff" stroke="#111" stroke-width="0.7"/>
<line x1="248.20" y1="407.5" x2="254.60" y2="407.5" stroke="#111" stroke-width="0.9"/>
<path d="M284.20,409.00 C284.95,409.67 286.95,411.67 288.70,413.00 C290.45,414.33 292.77,415.67 294.70,417.00 C296.63,418.33 299.80,419.83 300.30,421.00 C300.80,422.17 299.47,422.83 297.70,424.00 C295.93,425.17 291.98,426.90 289.70,428.00 C287.42,429.10 284.95,430.17 284.00,430.60 L283.40,430.60 C282.45,430.17 279.98,429.10 277.70,428.00 C275.42,426.90 271.47,425.17 269.70,424.00 C267.93,422.83 266.60,422.17 267.10,421.00 C267.60,419.83 270.77,418.33 272.70,417.00 C274.63,415.67 276.95,414.33 278.70,413.00 C280.45,411.67 282.45,409.67 283.20,409.00 Z" fill="#1E4B94" stroke="#111" stroke-width="0.6"/>
<line x1="283.7" y1="399.6" x2="283.7" y2="430.6" stroke="#111" stroke-width="0.6"/>
<line x1="283.7" y1="400" x2="283.7" y2="411" stroke="#111" stroke-width="2.7" stroke-linecap="round"/>
<rect x="280.50" y="418.2" width="6.40" height="6.20" fill="#fff" stroke="#111" stroke-width="0.7"/>
<line x1="280.50" y1="421.3" x2="286.90" y2="421.3" stroke="#111" stroke-width="0.9"/>
<path d="M317.00,410.00 C317.42,411.00 318.75,414.17 319.50,416.00 C320.25,417.83 321.00,419.50 321.50,421.00 C322.00,422.50 320.83,423.83 322.50,425.00 C324.17,426.17 332.45,427.23 331.50,428.00 C330.55,428.77 319.25,429.33 316.80,429.60 L316.20,429.60 C313.75,429.33 302.45,428.77 301.50,428.00 C300.55,427.23 308.83,426.17 310.50,425.00 C312.17,423.83 311.00,422.50 311.50,421.00 C312.00,419.50 312.75,417.83 313.50,416.00 C314.25,414.17 315.58,411.00 316.00,410.00 Z" fill="#E6E6E6" stroke="#111" stroke-width="0.6"/>
<line x1="316.5" y1="392" x2="316.5" y2="429" stroke="#111" stroke-width="0.6"/>
<line x1="316.5" y1="396" x2="316.5" y2="414" stroke="#111" stroke-width="2.7" stroke-linecap="round"/>
<circle cx="316.5" cy="392.3" r="1.3" fill="#111"/>
<rect x="313.30" y="419" width="6.40" height="9.00" fill="#fff" stroke="#111" stroke-width="0.7"/>
<line x1="313.30" y1="424" x2="319.70" y2="424" stroke="#111" stroke-width="0.9"/>
<path d="M382.70,361.00 C383.07,361.83 384.03,364.17 384.90,366.00 C385.77,367.83 386.65,369.67 387.90,372.00 C389.15,374.33 390.98,377.33 392.40,380.00 C393.82,382.67 395.33,385.27 396.40,388.00 C397.47,390.73 398.88,393.57 398.80,396.40 C398.72,399.23 397.22,402.23 395.90,405.00 C394.58,407.77 392.48,410.33 390.90,413.00 C389.32,415.67 387.57,418.50 386.40,421.00 C385.23,423.50 384.52,425.68 383.90,428.00 C383.28,430.32 382.90,433.75 382.70,434.90 L382.10,434.90 C381.90,433.75 381.52,430.32 380.90,428.00 C380.28,425.68 379.57,423.50 378.40,421.00 C377.23,418.50 375.48,415.67 373.90,413.00 C372.32,410.33 370.22,407.77 368.90,405.00 C367.58,402.23 366.08,399.23 366.00,396.40 C365.92,393.57 367.33,390.73 368.40,388.00 C369.47,385.27 370.98,382.67 372.40,380.00 C373.82,377.33 375.65,374.33 376.90,372.00 C378.15,369.67 379.03,367.83 379.90,366.00 C380.77,364.17 381.73,361.83 382.10,361.00 Z" fill="#DCC672" stroke="#111" stroke-width="0.6"/>
<line x1="382.4" y1="356.7" x2="382.4" y2="434.9" stroke="#111" stroke-width="0.6"/>
<line x1="382.4" y1="357" x2="382.4" y2="367" stroke="#111" stroke-width="2.7" stroke-linecap="round"/>
<circle cx="382.4" cy="357.2" r="1.3" fill="#111"/>
<rect x="379.20" y="390.1" width="6.40" height="16.80" fill="#fff" stroke="#111" stroke-width="0.7"/>
<line x1="379.20" y1="398.3" x2="385.60" y2="398.3" stroke="#111" stroke-width="0.9"/>
<path d="M415.00,420.00 C415.60,420.67 417.00,422.92 418.60,424.00 C420.20,425.08 422.38,425.73 424.60,426.50 C426.82,427.27 431.90,427.85 431.90,428.60 C431.90,429.35 427.43,430.33 424.60,431.00 C421.77,431.67 416.52,432.33 414.90,432.60 L414.30,432.60 C412.68,432.33 407.43,431.67 404.60,431.00 C401.77,430.33 397.30,429.35 397.30,428.60 C397.30,427.85 402.38,427.27 404.60,426.50 C406.82,425.73 409.00,425.08 410.60,424.00 C412.20,422.92 413.60,420.67 414.20,420.00 Z" fill="#1E4B94" stroke="#111" stroke-width="0.6"/>
<line x1="414.6" y1="389.4" x2="414.6" y2="432.6" stroke="#111" stroke-width="0.6"/>
<line x1="414.6" y1="398" x2="414.6" y2="422" stroke="#111" stroke-width="2.7" stroke-linecap="round"/>
<circle cx="414.6" cy="389.6" r="1.3" fill="#111"/>
<rect x="411.40" y="426.3" width="6.40" height="4.00" fill="#fff" stroke="#111" stroke-width="0.7"/>
<line x1="411.40" y1="428.3" x2="417.80" y2="428.3" stroke="#111" stroke-width="0.9"/>
<path d="M447.70,419.00 C448.38,419.67 450.28,421.83 451.80,423.00 C453.32,424.17 454.93,424.98 456.80,426.00 C458.67,427.02 462.92,428.27 463.00,429.10 C463.08,429.93 459.87,430.42 457.30,431.00 C454.73,431.58 449.22,432.33 447.60,432.60 L447.00,432.60 C445.38,432.33 439.87,431.58 437.30,431.00 C434.73,430.42 431.52,429.93 431.60,429.10 C431.68,428.27 435.93,427.02 437.80,426.00 C439.67,424.98 441.28,424.17 442.80,423.00 C444.32,421.83 446.22,419.67 446.90,419.00 Z" fill="#CD5D6E" stroke="#111" stroke-width="0.6"/>
<line x1="447.3" y1="402.2" x2="447.3" y2="432.6" stroke="#111" stroke-width="0.6"/>
<line x1="447.3" y1="402.5" x2="447.3" y2="421" stroke="#111" stroke-width="2.7" stroke-linecap="round"/>
<rect x="444.10" y="426" width="6.40" height="4.00" fill="#fff" stroke="#111" stroke-width="0.7"/>
<line x1="444.10" y1="428" x2="450.50" y2="428" stroke="#111" stroke-width="0.9"/>
<path d="M480.40,427.00 C480.92,427.42 480.77,428.83 483.50,429.50 C486.23,430.17 497.33,430.58 496.80,431.00 C496.27,431.42 483.05,431.83 480.30,432.00 L479.70,432.00 C476.95,431.83 463.73,431.42 463.20,431.00 C462.67,430.58 473.77,430.17 476.50,429.50 C479.23,428.83 479.08,427.42 479.60,427.00 Z" fill="#E6E6E6" stroke="#111" stroke-width="0.6"/>
<line x1="480" y1="400.4" x2="480" y2="432" stroke="#111" stroke-width="0.6"/>
<line x1="480" y1="412" x2="480" y2="428" stroke="#111" stroke-width="2.7" stroke-linecap="round"/>
<circle cx="480" cy="400.8" r="1.3" fill="#111"/>
<rect x="476.80" y="428" width="6.40" height="3.50" fill="#fff" stroke="#111" stroke-width="0.7"/>
<line x1="476.80" y1="430" x2="483.20" y2="430" stroke="#111" stroke-width="0.9"/>
<path d="M548.90,365.00 C549.65,365.83 551.82,368.00 553.40,370.00 C554.98,372.00 556.90,374.83 558.40,377.00 C559.90,379.17 561.38,380.93 562.40,383.00 C563.42,385.07 564.50,387.23 564.50,389.40 C564.50,391.57 563.58,393.73 562.40,396.00 C561.22,398.27 559.07,400.67 557.40,403.00 C555.73,405.33 553.57,407.83 552.40,410.00 C551.23,412.17 550.90,414.33 550.40,416.00 C549.90,417.67 549.67,417.23 549.40,420.00 C549.13,422.77 548.90,430.50 548.80,432.60 L548.00,432.60 C547.90,430.50 547.67,422.77 547.40,420.00 C547.13,417.23 546.90,417.67 546.40,416.00 C545.90,414.33 545.57,412.17 544.40,410.00 C543.23,407.83 541.07,405.33 539.40,403.00 C537.73,400.67 535.58,398.27 534.40,396.00 C533.22,393.73 532.30,391.57 532.30,389.40 C532.30,387.23 533.38,385.07 534.40,383.00 C535.42,380.93 536.90,379.17 538.40,377.00 C539.90,374.83 541.82,372.00 543.40,370.00 C544.98,368.00 547.15,365.83 547.90,365.00 Z" fill="#DCC672" stroke="#111" stroke-width="0.6"/>
<line x1="548.4" y1="356.2" x2="548.4" y2="432.6" stroke="#111" stroke-width="0.6"/>
<line x1="548.4" y1="357" x2="548.4" y2="366" stroke="#111" stroke-width="2.7" stroke-linecap="round"/>
<line x1="548.4" y1="415" x2="548.4" y2="432" stroke="#111" stroke-width="2.7" stroke-linecap="round"/>
<circle cx="548.4" cy="356.6" r="1.3" fill="#111"/>
<rect x="545.20" y="385.2" width="6.40" height="14.00" fill="#fff" stroke="#111" stroke-width="0.7"/>
<line x1="545.20" y1="391.7" x2="551.60" y2="391.7" stroke="#111" stroke-width="0.9"/>
<path d="M581.60,386.00 C582.02,387.50 583.35,392.17 584.10,395.00 C584.85,397.83 585.27,400.50 586.10,403.00 C586.93,405.50 587.77,407.83 589.10,410.00 C590.43,412.17 592.75,414.18 594.10,416.00 C595.45,417.82 597.37,419.23 597.20,420.90 C597.03,422.57 594.95,424.48 593.10,426.00 C591.25,427.52 588.05,428.90 586.10,430.00 C584.15,431.10 582.18,432.17 581.40,432.60 L580.80,432.60 C580.02,432.17 578.05,431.10 576.10,430.00 C574.15,428.90 570.95,427.52 569.10,426.00 C567.25,424.48 565.17,422.57 565.00,420.90 C564.83,419.23 566.75,417.82 568.10,416.00 C569.45,414.18 571.77,412.17 573.10,410.00 C574.43,407.83 575.27,405.50 576.10,403.00 C576.93,400.50 577.35,397.83 578.10,395.00 C578.85,392.17 580.18,387.50 580.60,386.00 Z" fill="#1E4B94" stroke="#111" stroke-width="0.6"/>
<line x1="581.1" y1="368.4" x2="581.1" y2="432.6" stroke="#111" stroke-width="0.6"/>
<line x1="581.1" y1="380" x2="581.1" y2="392" stroke="#111" stroke-width="2.7" stroke-linecap="round"/>
<circle cx="581.1" cy="368.8" r="1.3" fill="#111"/>
<circle cx="581.1" cy="372.5" r="1.3" fill="#111"/>
<circle cx="581.1" cy="376" r="1.3" fill="#111"/>
<rect x="577.90" y="412.7" width="6.40" height="9.90" fill="#fff" stroke="#111" stroke-width="0.7"/>
<line x1="577.90" y1="418.6" x2="584.30" y2="418.6" stroke="#111" stroke-width="0.9"/>
<path d="M613.50,418.00 C614.27,418.67 616.50,420.83 618.10,422.00 C619.70,423.17 621.20,424.13 623.10,425.00 C625.00,425.87 629.50,426.45 629.50,427.20 C629.50,427.95 625.78,428.87 623.10,429.50 C620.42,430.13 615.02,430.75 613.40,431.00 L612.80,431.00 C611.18,430.75 605.78,430.13 603.10,429.50 C600.42,428.87 596.70,427.95 596.70,427.20 C596.70,426.45 601.20,425.87 603.10,425.00 C605.00,424.13 606.50,423.17 608.10,422.00 C609.70,420.83 611.93,418.67 612.70,418.00 Z" fill="#CD5D6E" stroke="#111" stroke-width="0.6"/>
<line x1="613.1" y1="402.2" x2="613.1" y2="431" stroke="#111" stroke-width="0.6"/>
<line x1="613.1" y1="405" x2="613.1" y2="420" stroke="#111" stroke-width="2.7" stroke-linecap="round"/>
<circle cx="613.1" cy="402.6" r="1.3" fill="#111"/>
<rect x="609.90" y="424" width="6.40" height="5.00" fill="#fff" stroke="#111" stroke-width="0.7"/>
<line x1="609.90" y1="426.5" x2="616.30" y2="426.5" stroke="#111" stroke-width="0.9"/>
<path d="M646.20,427.00 C646.80,427.33 647.13,428.45 649.80,429.00 C652.47,429.55 662.82,429.93 662.20,430.30 C661.58,430.67 648.78,431.05 646.10,431.20 L645.50,431.20 C642.82,431.05 630.02,430.67 629.40,430.30 C628.78,429.93 639.13,429.55 641.80,429.00 C644.47,428.45 644.80,427.33 645.40,427.00 Z" fill="#E6E6E6" stroke="#111" stroke-width="0.6"/>
<line x1="645.8" y1="408.1" x2="645.8" y2="431.2" stroke="#111" stroke-width="0.6"/>
<line x1="645.8" y1="412" x2="645.8" y2="428" stroke="#111" stroke-width="2.7" stroke-linecap="round"/>
<circle cx="645.8" cy="408.4" r="1.3" fill="#111"/>
<rect x="642.60" y="427" width="6.40" height="4.00" fill="#fff" stroke="#111" stroke-width="0.7"/>
<line x1="642.60" y1="429.3" x2="649.00" y2="429.3" stroke="#111" stroke-width="0.9"/>
<path d="M54.4,366.1 L54.4,363.5 L86.9,363.5 L86.9,366.1" fill="none" stroke="#111" stroke-width="0.7"/><text x="70.65" y="365.00" font-size="8" text-anchor="middle" fill="#222">****</text>
<path d="M86.9,373.3 L86.9,370.7 L118.3,370.7 L118.3,373.3" fill="none" stroke="#111" stroke-width="0.7"/><text x="102.60" y="372.20" font-size="8" text-anchor="middle" fill="#222">****</text>
<path d="M118.3,380.40000000000003 L118.3,377.8 L150.2,377.8 L150.2,380.40000000000003" fill="none" stroke="#111" stroke-width="0.7"/><text x="134.25" y="379.30" font-size="8" text-anchor="middle" fill="#222">****</text>
<path d="M219.2,364.40000000000003 L219.2,361.8 L251.4,361.8 L251.4,364.40000000000003" fill="none" stroke="#111" stroke-width="0.7"/><text x="235.30" y="363.30" font-size="8" text-anchor="middle" fill="#222">****</text>
<path d="M251.4,371.90000000000003 L251.4,369.3 L283.7,369.3 L283.7,371.90000000000003" fill="none" stroke="#111" stroke-width="0.7"/><text x="267.55" y="370.80" font-size="8" text-anchor="middle" fill="#222">****</text>
<path d="M283.7,379.3 L283.7,376.7 L316.5,376.7 L316.5,379.3" fill="none" stroke="#111" stroke-width="0.7"/><text x="300.10" y="378.20" font-size="8" text-anchor="middle" fill="#222">****</text>
<path d="M382.4,367.0 L382.4,364.4 L414.6,364.4 L414.6,367.0" fill="none" stroke="#111" stroke-width="0.7"/><text x="398.50" y="365.90" font-size="8" text-anchor="middle" fill="#222">****</text>
<path d="M414.6,374.5 L414.6,371.9 L447.3,371.9 L447.3,374.5" fill="none" stroke="#111" stroke-width="0.7"/><text x="430.95" y="373.40" font-size="8" text-anchor="middle" fill="#222">***</text>
<path d="M447.3,381.5 L447.3,378.9 L480,378.9 L480,381.5" fill="none" stroke="#111" stroke-width="0.7"/><text x="463.65" y="380.40" font-size="8" text-anchor="middle" fill="#222">****</text>
<path d="M548.4,366.3 L548.4,363.7 L581.1,363.7 L581.1,366.3" fill="none" stroke="#111" stroke-width="0.7"/><text x="564.75" y="365.20" font-size="8" text-anchor="middle" fill="#222">****</text>
<path d="M581.1,373.3 L581.1,370.7 L613.1,370.7 L613.1,373.3" fill="none" stroke="#111" stroke-width="0.7"/><text x="597.10" y="372.20" font-size="8" text-anchor="middle" fill="#222">****</text>
<path d="M613.1,380.3 L613.1,377.7 L645.8,377.7 L645.8,380.3" fill="none" stroke="#111" stroke-width="0.7"/><text x="629.45" y="379.20" font-size="8" text-anchor="middle" fill="#222">****</text>
<text x="0.5" y="465.8" font-size="13" font-weight="bold">f</text>
<text x="174.6" y="465.8" font-size="13" font-weight="bold">g</text>
<text x="337.3" y="465.8" font-size="13" font-weight="bold">h</text>
<text x="501.8" y="465.8" font-size="13" font-weight="bold">i</text>
<text x="34.5" y="467.4" font-size="10.75" fill="#111"><tspan font-weight="bold">Accessibility</tspan> (Pre-ZGA)</text>
<text x="199.4" y="467.4" font-size="10.75" fill="#111"><tspan font-weight="bold">DNAme</tspan> (Pre-ZGA)</text>
<text x="364" y="467.4" font-size="10.75" font-weight="bold" fill="#111">CpG density</text>
<path d="M34.1,487 L34.1,573.5 L170.6,573.5" fill="none" stroke="#111" stroke-width="1.35"/>
<line x1="32.1" y1="563.2" x2="34.1" y2="563.2" stroke="#111" stroke-width="0.8"/>
<text x="31.40" y="566.20" font-size="8.2" text-anchor="end" fill="#333">0</text>
<line x1="32.1" y1="548.4" x2="34.1" y2="548.4" stroke="#111" stroke-width="0.8"/>
<text x="31.40" y="551.40" font-size="8.2" text-anchor="end" fill="#333">500</text>
<line x1="32.1" y1="533.7" x2="34.1" y2="533.7" stroke="#111" stroke-width="0.8"/>
<text x="31.40" y="536.70" font-size="8.2" text-anchor="end" fill="#333">1000</text>
<line x1="32.1" y1="519" x2="34.1" y2="519" stroke="#111" stroke-width="0.8"/>
<text x="31.40" y="522.00" font-size="8.2" text-anchor="end" fill="#333">1500</text>
<line x1="32.1" y1="504.3" x2="34.1" y2="504.3" stroke="#111" stroke-width="0.8"/>
<text x="31.40" y="507.30" font-size="8.2" text-anchor="end" fill="#333">2000</text>
<line x1="32.1" y1="489.6" x2="34.1" y2="489.6" stroke="#111" stroke-width="0.8"/>
<text x="31.40" y="492.60" font-size="8.2" text-anchor="end" fill="#333">2500</text>
<line x1="52.9" y1="573.6" x2="52.9" y2="575.6" stroke="#111" stroke-width="0.8"/>
<text x="52.9" y="580.3" font-size="7.9" text-anchor="middle" fill="#222">Shared</text>
<line x1="84.8" y1="573.6" x2="84.8" y2="575.6" stroke="#111" stroke-width="0.8"/>
<text x="84.8" y="580.3" font-size="7.9" text-anchor="middle" fill="#222">Gained</text>
<line x1="116.9" y1="573.6" x2="116.9" y2="575.6" stroke="#111" stroke-width="0.8"/>
<text x="116.9" y="580.3" font-size="7.9" text-anchor="middle" fill="#222">Lost</text>
<line x1="148.9" y1="573.6" x2="148.9" y2="575.6" stroke="#111" stroke-width="0.8"/>
<text x="148.9" y="580.3" font-size="7.9" text-anchor="middle" fill="#222">Absent</text>
<text transform="translate(12.0,533.5) rotate(-90)" font-size="8.45" text-anchor="middle" fill="#333">Accessibility enrichment</text>
<path d="M53.20,526.60 C53.98,527.17 56.32,528.92 57.90,530.00 C59.48,531.08 61.53,532.10 62.70,533.10 C63.87,534.10 64.28,534.97 64.90,536.00 C65.52,537.03 65.97,537.97 66.40,539.30 C66.83,540.63 67.27,542.30 67.50,544.00 C67.73,545.70 67.73,547.67 67.80,549.50 C67.87,551.33 67.85,553.30 67.90,555.00 C67.95,556.70 67.93,558.50 68.10,559.70 C68.27,560.90 70.10,561.35 68.90,562.20 C67.70,563.05 63.52,564.02 60.90,564.80 C58.28,565.58 54.48,566.55 53.20,566.90 L52.60,566.90 C51.32,566.55 47.52,565.58 44.90,564.80 C42.28,564.02 38.10,563.05 36.90,562.20 C35.70,561.35 37.53,560.90 37.70,559.70 C37.87,558.50 37.85,556.70 37.90,555.00 C37.95,553.30 37.93,551.33 38.00,549.50 C38.07,547.67 38.07,545.70 38.30,544.00 C38.53,542.30 38.97,540.63 39.40,539.30 C39.83,537.97 40.28,537.03 40.90,536.00 C41.52,534.97 41.93,534.10 43.10,533.10 C44.27,532.10 46.32,531.08 47.90,530.00 C49.48,528.92 51.82,527.17 52.60,526.60 Z" fill="#DCC672" stroke="#111" stroke-width="0.6"/>
<line x1="52.9" y1="493.3" x2="52.9" y2="566.9" stroke="#111" stroke-width="0.6"/>
<circle cx="52.9" cy="494.3" r="1.3" fill="#111"/>
<circle cx="52.9" cy="495.3" r="1.3" fill="#111"/>
<circle cx="52.9" cy="509.6" r="1.3" fill="#111"/>
<circle cx="52.9" cy="511.7" r="1.3" fill="#111"/>
<rect x="49.20" y="540.3" width="7.40" height="16.30" fill="#fff" stroke="#111" stroke-width="0.7"/>
<line x1="49.20" y1="547.9" x2="56.60" y2="547.9" stroke="#111" stroke-width="0.9"/>
<path d="M85.10,528.00 C86.22,528.83 90.18,531.50 91.80,533.00 C93.42,534.50 94.03,535.83 94.80,537.00 C95.57,538.17 95.78,538.93 96.40,540.00 C97.02,541.07 98.10,542.23 98.50,543.40 C98.90,544.57 98.50,545.90 98.80,547.00 C99.10,548.10 100.08,548.50 100.30,550.00 C100.52,551.50 100.07,554.05 100.10,556.00 C100.13,557.95 101.55,560.20 100.50,561.70 C99.45,563.20 96.37,563.80 93.80,565.00 C91.23,566.20 86.55,568.25 85.10,568.90 L84.50,568.90 C83.05,568.25 78.37,566.20 75.80,565.00 C73.23,563.80 70.15,563.20 69.10,561.70 C68.05,560.20 69.47,557.95 69.50,556.00 C69.53,554.05 69.08,551.50 69.30,550.00 C69.52,548.50 70.50,548.10 70.80,547.00 C71.10,545.90 70.70,544.57 71.10,543.40 C71.50,542.23 72.58,541.07 73.20,540.00 C73.82,538.93 74.03,538.17 74.80,537.00 C75.57,535.83 76.18,534.50 77.80,533.00 C79.42,531.50 83.38,528.83 84.50,528.00 Z" fill="#1E4B94" stroke="#111" stroke-width="0.6"/>
<line x1="84.8" y1="520.9" x2="84.8" y2="568.9" stroke="#111" stroke-width="0.6"/>
<rect x="81.10" y="541.3" width="7.40" height="16.80" fill="#fff" stroke="#111" stroke-width="0.7"/>
<line x1="81.10" y1="549.5" x2="88.50" y2="549.5" stroke="#111" stroke-width="0.9"/>
<path d="M117.20,528.00 C118.32,528.83 122.20,531.50 123.90,533.00 C125.60,534.50 126.48,535.67 127.40,537.00 C128.32,538.33 128.82,539.67 129.40,541.00 C129.98,542.33 130.43,543.50 130.90,545.00 C131.37,546.50 132.07,548.33 132.20,550.00 C132.33,551.67 131.70,553.50 131.70,555.00 C131.70,556.50 132.67,557.67 132.20,559.00 C131.73,560.33 130.45,561.92 128.90,563.00 C127.35,564.08 124.85,564.68 122.90,565.50 C120.95,566.32 118.15,567.50 117.20,567.90 L116.60,567.90 C115.65,567.50 112.85,566.32 110.90,565.50 C108.95,564.68 106.45,564.08 104.90,563.00 C103.35,561.92 102.07,560.33 101.60,559.00 C101.13,557.67 102.10,556.50 102.10,555.00 C102.10,553.50 101.47,551.67 101.60,550.00 C101.73,548.33 102.43,546.50 102.90,545.00 C103.37,543.50 103.82,542.33 104.40,541.00 C104.98,539.67 105.48,538.33 106.40,537.00 C107.32,535.67 108.20,534.50 109.90,533.00 C111.60,531.50 115.48,528.83 116.60,528.00 Z" fill="#CD5D6E" stroke="#111" stroke-width="0.6"/>
<line x1="116.9" y1="515.8" x2="116.9" y2="567.9" stroke="#111" stroke-width="0.6"/>
<rect x="113.20" y="542.3" width="7.40" height="15.00" fill="#fff" stroke="#111" stroke-width="0.7"/>
<line x1="113.20" y1="549.5" x2="120.60" y2="549.5" stroke="#111" stroke-width="0.9"/>
<path d="M149.20,529.00 C149.65,530.00 151.12,533.17 151.90,535.00 C152.68,536.83 153.32,538.33 153.90,540.00 C154.48,541.67 154.90,543.33 155.40,545.00 C155.90,546.67 156.48,548.50 156.90,550.00 C157.32,551.50 157.57,552.72 157.90,554.00 C158.23,555.28 158.32,556.62 158.90,557.70 C159.48,558.78 160.42,559.68 161.40,560.50 C162.38,561.32 165.55,561.93 164.80,562.60 C164.05,563.27 159.50,564.00 156.90,564.50 C154.30,565.00 150.48,565.42 149.20,565.60 L148.60,565.60 C147.32,565.42 143.50,565.00 140.90,564.50 C138.30,564.00 133.75,563.27 133.00,562.60 C132.25,561.93 135.42,561.32 136.40,560.50 C137.38,559.68 138.32,558.78 138.90,557.70 C139.48,556.62 139.57,555.28 139.90,554.00 C140.23,552.72 140.48,551.50 140.90,550.00 C141.32,548.50 141.90,546.67 142.40,545.00 C142.90,543.33 143.32,541.67 143.90,540.00 C144.48,538.33 145.12,536.83 145.90,535.00 C146.68,533.17 148.15,530.00 148.60,529.00 Z" fill="#E6E6E6" stroke="#111" stroke-width="0.6"/>
<line x1="148.9" y1="506.6" x2="148.9" y2="565.6" stroke="#111" stroke-width="0.6"/>
<circle cx="148.9" cy="511.1" r="1.3" fill="#111"/>
<rect x="145.20" y="545" width="7.40" height="15.70" fill="#fff" stroke="#111" stroke-width="0.7"/>
<line x1="145.20" y1="553.2" x2="152.60" y2="553.2" stroke="#111" stroke-width="0.9"/>
<path d="M52.9,500.6 L52.9,498 L84.8,498 L84.8,500.6" fill="none" stroke="#111" stroke-width="0.7"/><text x="68.85" y="499.50" font-size="8" text-anchor="middle" fill="#222">****</text>
<path d="M84.8,507.5 L84.8,504.9 L116.9,504.9 L116.9,507.5" fill="none" stroke="#111" stroke-width="0.7"/><text x="100.85" y="503.30" font-size="8.6" text-anchor="middle" fill="#222">ns</text>
<path d="M116.9,513.9 L116.9,511.3 L148.9,511.3 L148.9,513.9" fill="none" stroke="#111" stroke-width="0.7"/><text x="132.90" y="512.80" font-size="8" text-anchor="middle" fill="#222">****</text>
<path d="M202.5,487 L202.5,573.6 L336.5,573.6" fill="none" stroke="#111" stroke-width="1.35"/>
<line x1="200.5" y1="565.8" x2="202.5" y2="565.8" stroke="#111" stroke-width="0.8"/>
<text x="199.80" y="568.80" font-size="8.2" text-anchor="end" fill="#333">0</text>
<line x1="200.5" y1="538.2" x2="202.5" y2="538.2" stroke="#111" stroke-width="0.8"/>
<text x="199.80" y="541.20" font-size="8.2" text-anchor="end" fill="#333">500</text>
<line x1="200.5" y1="510.7" x2="202.5" y2="510.7" stroke="#111" stroke-width="0.8"/>
<text x="199.80" y="513.70" font-size="8.2" text-anchor="end" fill="#333">1000</text>
<line x1="221.5" y1="573.6" x2="221.5" y2="575.6" stroke="#111" stroke-width="0.8"/>
<text x="221.5" y="580.3" font-size="7.9" text-anchor="middle" fill="#222">Gained</text>
<line x1="253.5" y1="573.6" x2="253.5" y2="575.6" stroke="#111" stroke-width="0.8"/>
<text x="253.5" y="580.3" font-size="7.9" text-anchor="middle" fill="#222">Absent</text>
<line x1="285.4" y1="573.6" x2="285.4" y2="575.6" stroke="#111" stroke-width="0.8"/>
<text x="285.4" y="580.3" font-size="7.9" text-anchor="middle" fill="#222">Lost</text>
<line x1="317.5" y1="573.6" x2="317.5" y2="575.6" stroke="#111" stroke-width="0.8"/>
<text x="317.5" y="580.3" font-size="7.9" text-anchor="middle" fill="#222">Shared</text>
<text transform="translate(183,526.8) rotate(-90)" font-size="8.0" text-anchor="middle" fill="#333">DNA methylation enrichment</text>
<path d="M221.80,544.40 C222.50,545.00 224.68,546.82 226.00,548.00 C227.32,549.18 228.75,550.42 229.70,551.50 C230.65,552.58 231.02,553.47 231.70,554.50 C232.38,555.53 233.12,556.70 233.80,557.70 C234.48,558.70 235.20,559.65 235.80,560.50 C236.40,561.35 237.62,562.02 237.40,562.80 C237.18,563.58 236.15,564.45 234.50,565.20 C232.85,565.95 229.62,566.68 227.50,567.30 C225.38,567.92 222.75,568.63 221.80,568.90 L221.20,568.90 C220.25,568.63 217.62,567.92 215.50,567.30 C213.38,566.68 210.15,565.95 208.50,565.20 C206.85,564.45 205.82,563.58 205.60,562.80 C205.38,562.02 206.60,561.35 207.20,560.50 C207.80,559.65 208.52,558.70 209.20,557.70 C209.88,556.70 210.62,555.53 211.30,554.50 C211.98,553.47 212.35,552.58 213.30,551.50 C214.25,550.42 215.68,549.18 217.00,548.00 C218.32,546.82 220.50,545.00 221.20,544.40 Z" fill="#1E4B94" stroke="#111" stroke-width="0.6"/>
<line x1="221.5" y1="530.1" x2="221.5" y2="568.9" stroke="#111" stroke-width="0.6"/>
<line x1="221.5" y1="533.1" x2="221.5" y2="545.4" stroke="#111" stroke-width="2.7" stroke-linecap="round"/>
<rect x="218.30" y="555.6" width="6.40" height="8.20" fill="#fff" stroke="#111" stroke-width="0.7"/>
<line x1="218.30" y1="559.7" x2="224.70" y2="559.7" stroke="#111" stroke-width="0.9"/>
<path d="M253.80,543.40 C254.17,544.00 255.27,545.65 256.00,547.00 C256.73,548.35 257.42,550.00 258.20,551.50 C258.98,553.00 259.85,554.63 260.70,556.00 C261.55,557.37 262.42,558.70 263.30,559.70 C264.18,560.70 265.15,561.32 266.00,562.00 C266.85,562.68 267.90,563.23 268.40,563.80 C268.90,564.37 270.15,564.90 269.00,565.40 C267.85,565.90 264.03,566.32 261.50,566.80 C258.97,567.28 255.08,568.05 253.80,568.30 L253.20,568.30 C251.92,568.05 248.03,567.28 245.50,566.80 C242.97,566.32 239.15,565.90 238.00,565.40 C236.85,564.90 238.10,564.37 238.60,563.80 C239.10,563.23 240.15,562.68 241.00,562.00 C241.85,561.32 242.82,560.70 243.70,559.70 C244.58,558.70 245.45,557.37 246.30,556.00 C247.15,554.63 248.02,553.00 248.80,551.50 C249.58,550.00 250.27,548.35 251.00,547.00 C251.73,545.65 252.83,544.00 253.20,543.40 Z" fill="#E6E6E6" stroke="#111" stroke-width="0.6"/>
<line x1="253.5" y1="492.3" x2="253.5" y2="568.3" stroke="#111" stroke-width="0.6"/>
<line x1="253.5" y1="492.8" x2="253.5" y2="543.4" stroke="#111" stroke-width="2.7" stroke-linecap="round"/>
<rect x="250.30" y="554.6" width="6.40" height="9.60" fill="#fff" stroke="#111" stroke-width="0.7"/>
<line x1="250.30" y1="560.7" x2="256.70" y2="560.7" stroke="#111" stroke-width="0.9"/>
<path d="M285.70,547.40 C286.15,547.92 287.53,549.47 288.40,550.50 C289.27,551.53 290.07,552.57 290.90,553.60 C291.73,554.63 292.55,555.68 293.40,556.70 C294.25,557.72 295.17,558.85 296.00,559.70 C296.83,560.55 297.55,561.18 298.40,561.80 C299.25,562.42 301.77,562.78 301.10,563.40 C300.43,564.02 296.97,564.75 294.40,565.50 C291.83,566.25 287.15,567.50 285.70,567.90 L285.10,567.90 C283.65,567.50 278.97,566.25 276.40,565.50 C273.83,564.75 270.37,564.02 269.70,563.40 C269.03,562.78 271.55,562.42 272.40,561.80 C273.25,561.18 273.97,560.55 274.80,559.70 C275.63,558.85 276.55,557.72 277.40,556.70 C278.25,555.68 279.07,554.63 279.90,553.60 C280.73,552.57 281.53,551.53 282.40,550.50 C283.27,549.47 284.65,547.92 285.10,547.40 Z" fill="#CD5D6E" stroke="#111" stroke-width="0.6"/>
<line x1="285.4" y1="494.3" x2="285.4" y2="567.9" stroke="#111" stroke-width="0.6"/>
<line x1="285.4" y1="494.8" x2="285.4" y2="500" stroke="#111" stroke-width="2.7" stroke-linecap="round"/>
<line x1="285.4" y1="504" x2="285.4" y2="507" stroke="#111" stroke-width="2.7" stroke-linecap="round"/>
<line x1="285.4" y1="512" x2="285.4" y2="515" stroke="#111" stroke-width="2.7" stroke-linecap="round"/>
<line x1="285.4" y1="520" x2="285.4" y2="523" stroke="#111" stroke-width="2.7" stroke-linecap="round"/>
<line x1="285.4" y1="532.1" x2="285.4" y2="547.4" stroke="#111" stroke-width="2.7" stroke-linecap="round"/>
<circle cx="285.4" cy="494.5" r="1.3" fill="#111"/>
<circle cx="285.4" cy="497.5" r="1.3" fill="#111"/>
<circle cx="285.4" cy="509" r="1.3" fill="#111"/>
<circle cx="285.4" cy="526" r="1.3" fill="#111"/>
<circle cx="285.4" cy="529" r="1.3" fill="#111"/>
<rect x="282.20" y="557.3" width="6.40" height="7.50" fill="#fff" stroke="#111" stroke-width="0.7"/>
<line x1="282.20" y1="560.7" x2="288.60" y2="560.7" stroke="#111" stroke-width="0.9"/>
<path d="M317.80,555.60 C318.25,556.00 319.70,557.15 320.50,558.00 C321.30,558.85 321.60,559.92 322.60,560.70 C323.60,561.48 324.63,562.08 326.50,562.70 C328.37,563.32 333.97,563.88 333.80,564.40 C333.63,564.92 328.17,565.38 325.50,565.80 C322.83,566.22 319.08,566.72 317.80,566.90 L317.20,566.90 C315.92,566.72 312.17,566.22 309.50,565.80 C306.83,565.38 301.37,564.92 301.20,564.40 C301.03,563.88 306.63,563.32 308.50,562.70 C310.37,562.08 311.40,561.48 312.40,560.70 C313.40,559.92 313.70,558.85 314.50,558.00 C315.30,557.15 316.75,556.00 317.20,555.60 Z" fill="#DCC672" stroke="#111" stroke-width="0.6"/>
<line x1="317.5" y1="537.2" x2="317.5" y2="566.9" stroke="#111" stroke-width="0.6"/>
<line x1="317.5" y1="537.6" x2="317.5" y2="556.6" stroke="#111" stroke-width="2.7" stroke-linecap="round"/>
<rect x="314.30" y="561.3" width="6.40" height="3.50" fill="#fff" stroke="#111" stroke-width="0.7"/>
<line x1="314.30" y1="563" x2="320.70" y2="563" stroke="#111" stroke-width="0.9"/>
<path d="M221.5,499.40000000000003 L221.5,496.8 L253.5,496.8 L253.5,499.40000000000003" fill="none" stroke="#111" stroke-width="0.7"/><text x="237.50" y="498.30" font-size="8" text-anchor="middle" fill="#222">**</text>
<path d="M253.5,506.70000000000005 L253.5,504.1 L285.4,504.1 L285.4,506.70000000000005" fill="none" stroke="#111" stroke-width="0.7"/><text x="269.45" y="505.60" font-size="8" text-anchor="middle" fill="#222">****</text>
<path d="M285.4,514.3 L285.4,511.7 L317.5,511.7 L317.5,514.3" fill="none" stroke="#111" stroke-width="0.7"/><text x="301.45" y="513.20" font-size="8" text-anchor="middle" fill="#222">****</text>
<path d="M365,487 L365,573.4 L499.9,573.4" fill="none" stroke="#111" stroke-width="1.35"/>
<line x1="363.0" y1="567.5" x2="365" y2="567.5" stroke="#111" stroke-width="0.8"/>
<text x="362.30" y="570.50" font-size="8.2" text-anchor="end" fill="#333">0.00</text>
<line x1="363.0" y1="542" x2="365" y2="542" stroke="#111" stroke-width="0.8"/>
<text x="362.30" y="545.00" font-size="8.2" text-anchor="end" fill="#333">0.05</text>
<line x1="363.0" y1="516.4" x2="365" y2="516.4" stroke="#111" stroke-width="0.8"/>
<text x="362.30" y="519.40" font-size="8.2" text-anchor="end" fill="#333">0.10</text>
<line x1="363.0" y1="490.9" x2="365" y2="490.9" stroke="#111" stroke-width="0.8"/>
<text x="362.30" y="493.90" font-size="8.2" text-anchor="end" fill="#333">0.15</text>
<line x1="384.2" y1="573.4" x2="384.2" y2="575.4" stroke="#111" stroke-width="0.8"/>
<text x="384.2" y="580.3" font-size="7.9" text-anchor="middle" fill="#222">Shared</text>
<line x1="416.9" y1="573.4" x2="416.9" y2="575.4" stroke="#111" stroke-width="0.8"/>
<text x="416.9" y="580.3" font-size="7.9" text-anchor="middle" fill="#222">Gained</text>
<line x1="448.8" y1="573.4" x2="448.8" y2="575.4" stroke="#111" stroke-width="0.8"/>
<text x="448.8" y="580.3" font-size="7.9" text-anchor="middle" fill="#222">Absent</text>
<line x1="481.3" y1="573.4" x2="481.3" y2="575.4" stroke="#111" stroke-width="0.8"/>
<text x="481.3" y="580.3" font-size="7.9" text-anchor="middle" fill="#222">Lost</text>
<text transform="translate(344.8,529.8) rotate(-90)" font-size="8.0" text-anchor="middle" fill="#333">GpC density</text>
<path d="M384.50,542.00 C385.45,542.67 388.25,544.67 390.20,546.00 C392.15,547.33 394.52,548.75 396.20,550.00 C397.88,551.25 400.22,552.33 400.30,553.50 C400.38,554.67 398.38,555.92 396.70,557.00 C395.02,558.08 392.20,559.10 390.20,560.00 C388.20,560.90 385.62,562.00 384.70,562.40 L383.70,562.40 C382.78,562.00 380.20,560.90 378.20,560.00 C376.20,559.10 373.38,558.08 371.70,557.00 C370.02,555.92 368.02,554.67 368.10,553.50 C368.18,552.33 370.52,551.25 372.20,550.00 C373.88,548.75 376.25,547.33 378.20,546.00 C380.15,544.67 382.95,542.67 383.90,542.00 Z" fill="#DCC672" stroke="#111" stroke-width="0.6"/>
<line x1="384.2" y1="529.2" x2="384.2" y2="567.5" stroke="#111" stroke-width="0.6"/>
<line x1="384.2" y1="529.6" x2="384.2" y2="542" stroke="#111" stroke-width="2.7" stroke-linecap="round"/>
<circle cx="384.2" cy="567" r="1.3" fill="#111"/>
<rect x="380.90" y="550.9" width="6.60" height="5.90" fill="#fff" stroke="#111" stroke-width="0.7"/>
<line x1="380.90" y1="553.8" x2="387.50" y2="553.8" stroke="#111" stroke-width="0.9"/>
<path d="M417.20,548.40 C417.65,549.00 418.78,550.73 419.90,552.00 C421.02,553.27 422.40,554.83 423.90,556.00 C425.40,557.17 427.52,558.15 428.90,559.00 C430.28,559.85 432.53,560.35 432.20,561.10 C431.87,561.85 429.40,562.65 426.90,563.50 C424.40,564.35 418.82,565.75 417.20,566.20 L416.60,566.20 C414.98,565.75 409.40,564.35 406.90,563.50 C404.40,562.65 401.93,561.85 401.60,561.10 C401.27,560.35 403.52,559.85 404.90,559.00 C406.28,558.15 408.40,557.17 409.90,556.00 C411.40,554.83 412.78,553.27 413.90,552.00 C415.02,550.73 416.15,549.00 416.60,548.40 Z" fill="#1E4B94" stroke="#111" stroke-width="0.6"/>
<line x1="416.9" y1="535.6" x2="416.9" y2="566.2" stroke="#111" stroke-width="0.6"/>
<line x1="416.9" y1="536" x2="416.9" y2="548.4" stroke="#111" stroke-width="2.7" stroke-linecap="round"/>
<rect x="413.60" y="557.3" width="6.60" height="5.10" fill="#fff" stroke="#111" stroke-width="0.7"/>
<line x1="413.60" y1="560" x2="420.20" y2="560" stroke="#111" stroke-width="0.9"/>
<path d="M449.10,547.00 C449.55,547.83 450.68,550.50 451.80,552.00 C452.92,553.50 454.30,554.83 455.80,556.00 C457.30,557.17 459.42,558.15 460.80,559.00 C462.18,559.85 464.60,560.27 464.10,561.10 C463.60,561.93 460.30,563.02 457.80,564.00 C455.30,564.98 450.55,566.50 449.10,567.00 L448.50,567.00 C447.05,566.50 442.30,564.98 439.80,564.00 C437.30,563.02 434.00,561.93 433.50,561.10 C433.00,560.27 435.42,559.85 436.80,559.00 C438.18,558.15 440.30,557.17 441.80,556.00 C443.30,554.83 444.68,553.50 445.80,552.00 C446.92,550.50 448.05,547.83 448.50,547.00 Z" fill="#E6E6E6" stroke="#111" stroke-width="0.6"/>
<line x1="448.8" y1="490.9" x2="448.8" y2="567" stroke="#111" stroke-width="0.6"/>
<line x1="448.8" y1="491.3" x2="448.8" y2="492.5" stroke="#111" stroke-width="2.7" stroke-linecap="round"/>
<line x1="448.8" y1="494.5" x2="448.8" y2="495.5" stroke="#111" stroke-width="2.7" stroke-linecap="round"/>
<line x1="448.8" y1="503" x2="448.8" y2="506" stroke="#111" stroke-width="2.7" stroke-linecap="round"/>
<line x1="448.8" y1="510" x2="448.8" y2="513" stroke="#111" stroke-width="2.7" stroke-linecap="round"/>
<line x1="448.8" y1="516" x2="448.8" y2="547" stroke="#111" stroke-width="2.7" stroke-linecap="round"/>
<rect x="445.50" y="556.8" width="6.60" height="6.20" fill="#fff" stroke="#111" stroke-width="0.7"/>
<line x1="445.50" y1="560" x2="452.10" y2="560" stroke="#111" stroke-width="0.9"/>
<path d="M481.60,552.20 C482.22,552.67 483.85,554.03 485.30,555.00 C486.75,555.97 488.28,556.85 490.30,558.00 C492.32,559.15 497.40,560.90 497.40,561.90 C497.40,562.90 492.93,563.28 490.30,564.00 C487.67,564.72 483.05,565.83 481.60,566.20 L481.00,566.20 C479.55,565.83 474.93,564.72 472.30,564.00 C469.67,563.28 465.20,562.90 465.20,561.90 C465.20,560.90 470.28,559.15 472.30,558.00 C474.32,556.85 475.85,555.97 477.30,555.00 C478.75,554.03 480.38,552.67 481.00,552.20 Z" fill="#CD5D6E" stroke="#111" stroke-width="0.6"/>
<line x1="481.3" y1="538.1" x2="481.3" y2="566.2" stroke="#111" stroke-width="0.6"/>
<line x1="481.3" y1="538.5" x2="481.3" y2="552.2" stroke="#111" stroke-width="2.7" stroke-linecap="round"/>
<rect x="478.00" y="557.8" width="6.60" height="5.10" fill="#fff" stroke="#111" stroke-width="0.7"/>
<line x1="478.00" y1="560.3" x2="484.60" y2="560.3" stroke="#111" stroke-width="0.9"/>
<path d="M384.2,498.1 L384.2,495.5 L416.9,495.5 L416.9,498.1" fill="none" stroke="#111" stroke-width="0.7"/><text x="400.55" y="497.00" font-size="8" text-anchor="middle" fill="#222">****</text>
<path d="M416.9,505.70000000000005 L416.9,503.1 L448.8,503.1 L448.8,505.70000000000005" fill="none" stroke="#111" stroke-width="0.7"/><text x="432.85" y="501.50" font-size="8.6" text-anchor="middle" fill="#222">ns</text>
<path d="M448.8,513.4 L448.8,510.8 L481.3,510.8 L481.3,513.4" fill="none" stroke="#111" stroke-width="0.7"/><text x="465.05" y="512.30" font-size="8" text-anchor="middle" fill="#222">****</text>
<rect x="553.2" y="467.7" width="14.65" height="16.05" fill="#FDEAE3"/>
<rect x="567.8" y="467.7" width="15.05" height="16.05" fill="#E5866A"/>
<rect x="582.8" y="467.7" width="14.65" height="16.05" fill="#FBD9CC"/>
<rect x="597.4" y="467.7" width="14.95" height="16.05" fill="#3F74AB"/>
<rect x="553.2" y="485.4" width="14.65" height="15.55" fill="#F7C0AD"/>
<rect x="567.8" y="485.4" width="15.05" height="15.55" fill="#4E8CBF"/>
<rect x="582.8" y="485.4" width="14.65" height="15.55" fill="#DD705B"/>
<rect x="597.4" y="485.4" width="14.95" height="15.55" fill="#D1E3F1"/>
<rect x="553.2" y="500.9" width="14.65" height="15.85" fill="#F6C7B8"/>
<rect x="567.8" y="500.9" width="15.05" height="15.85" fill="#5FA3CF"/>
<rect x="582.8" y="500.9" width="14.65" height="15.85" fill="#D7644F"/>
<rect x="597.4" y="500.9" width="14.95" height="15.85" fill="#B7D5EA"/>
<rect x="553.2" y="516.7" width="14.65" height="15.75" fill="#EDF3F9"/>
<rect x="567.8" y="516.7" width="15.05" height="15.75" fill="#3F7CB5"/>
<rect x="582.8" y="516.7" width="14.65" height="15.75" fill="#FCDBCF"/>
<rect x="597.4" y="516.7" width="14.95" height="15.75" fill="#DE7561"/>
<rect x="553.2" y="535.2" width="14.65" height="16.15" fill="#97C3E0"/>
<rect x="567.8" y="535.2" width="15.05" height="16.15" fill="#B5433F"/>
<rect x="582.8" y="535.2" width="14.65" height="16.15" fill="#BCD8EB"/>
<rect x="597.4" y="535.2" width="14.95" height="16.15" fill="#E1ECF5"/>
<text x="551.3" y="479" font-size="8" text-anchor="end" fill="#222">Accessibility</text>
<text x="550.5" y="506.8" font-size="8" text-anchor="end" fill="#222">DNA</text>
<text x="551.5" y="515.6" font-size="8" text-anchor="end" fill="#222">methylation</text>
<text x="551.3" y="546.2" font-size="8" text-anchor="end" fill="#222">CpG density</text>
<text x="613.6" y="478.6" font-size="8" fill="#222">Pre−ZGA</text>
<text x="613.6" y="496.1" font-size="8" fill="#222">Spermatid</text>
<text x="613.6" y="511.7" font-size="8" fill="#222">Sperm</text>
<text x="613.6" y="527.5" font-size="8" fill="#222">Pre−ZGA</text>
<text transform="translate(563.4,553.6) rotate(-90)" font-size="8" text-anchor="end" fill="#222">Lost</text>
<text transform="translate(578.2,553.6) rotate(-90)" font-size="8" text-anchor="end" fill="#222">Shared</text>
<text transform="translate(593.0,553.6) rotate(-90)" font-size="8" text-anchor="end" fill="#222">Gained</text>
<text transform="translate(607.7,553.6) rotate(-90)" font-size="8" text-anchor="end" fill="#222">Absent</text>
<text x="630.2" y="539.9" font-size="7.95" fill="#222">Mean (z−score)</text>
<rect x="651.5" y="545.4" width="6.8" height="34.8" fill="url(#gBar)"/>
<line x1="656.6" y1="546.7" x2="658.3" y2="546.7" stroke="#fff" stroke-width="0.6"/>
<text x="659.3" y="549.8" font-size="8.6" fill="#222">2</text>
<line x1="656.6" y1="554.5" x2="658.3" y2="554.5" stroke="#fff" stroke-width="0.6"/>
<text x="659.3" y="557.6" font-size="8.6" fill="#222">1</text>
<line x1="656.6" y1="562.8" x2="658.3" y2="562.8" stroke="#fff" stroke-width="0.6"/>
<text x="659.3" y="565.9" font-size="8.6" fill="#222">0</text>
<line x1="656.6" y1="570.6" x2="658.3" y2="570.6" stroke="#fff" stroke-width="0.6"/>
<text x="659.3" y="573.7" font-size="8.6" fill="#222">−1</text>
<line x1="656.6" y1="577.7" x2="658.3" y2="577.7" stroke="#fff" stroke-width="0.6"/>
<text x="659.3" y="580.8" font-size="8.6" fill="#222">−2</text>
</svg></body></html>
